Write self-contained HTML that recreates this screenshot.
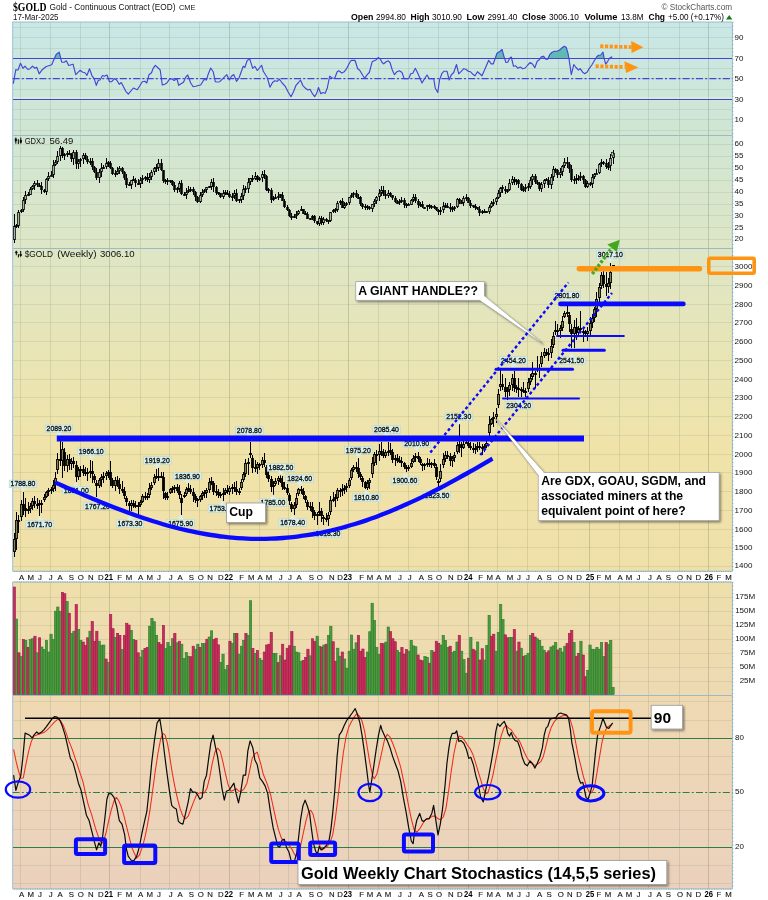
<!DOCTYPE html>
<html><head><meta charset="utf-8"><title>$GOLD</title>
<style>html,body{margin:0;padding:0;background:#fff}body{width:768px;height:900px;position:relative;overflow:hidden;font-family:"Liberation Sans",sans-serif}</style></head>
<body>
<svg width="768" height="900" viewBox="0 0 768 900" style="position:absolute;left:0;top:0;will-change:transform;font-family:'Liberation Sans',sans-serif">
<defs>
<linearGradient id="bg" x1="0" y1="0" x2="0" y2="1" gradientUnits="objectBoundingBox">
<stop offset="0.0000" stop-color="#c8e7e6"/>
<stop offset="0.1303" stop-color="#d0e6d3"/>
<stop offset="0.2607" stop-color="#dee6c6"/>
<stop offset="0.3783" stop-color="#e8e5b6"/>
<stop offset="0.4937" stop-color="#f0e3a9"/>
<stop offset="0.6321" stop-color="#efe0a9"/>
<stop offset="0.6863" stop-color="#eeddae"/>
<stop offset="0.7912" stop-color="#eed9b3"/>
<stop offset="0.9135" stop-color="#ecd4ba"/>
<stop offset="1.0000" stop-color="#ebd1bc"/>
</linearGradient>
<filter id="sh" x="-5%" y="-10%" width="115%" height="130%"><feDropShadow dx="1.5" dy="1.5" stdDeviation="0.8" flood-color="#000" flood-opacity="0.45"/></filter>
<clipPath id="rsiTop"><rect x="0" y="0" width="768" height="58.5"/></clipPath>
</defs>
<rect width="768" height="900" fill="#fff"/>
<rect x="12.6" y="22" width="719.8" height="867" fill="url(#bg)"/>
<g shape-rendering="crispEdges"><line x1="20.5" x2="20.5" y1="22" y2="889" stroke="#5a7050" stroke-width="1" opacity="0.15"/><line x1="50.5" x2="50.5" y1="22" y2="889" stroke="#5a7050" stroke-width="1" opacity="0.15"/><line x1="80.5" x2="80.5" y1="22" y2="889" stroke="#5a7050" stroke-width="1" opacity="0.15"/><line x1="109.5" x2="109.5" y1="22" y2="889" stroke="#5a7050" stroke-width="1" opacity="0.26"/><line x1="140.5" x2="140.5" y1="22" y2="889" stroke="#5a7050" stroke-width="1" opacity="0.15"/><line x1="169.5" x2="169.5" y1="22" y2="889" stroke="#5a7050" stroke-width="1" opacity="0.15"/><line x1="199.5" x2="199.5" y1="22" y2="889" stroke="#5a7050" stroke-width="1" opacity="0.15"/><line x1="229.5" x2="229.5" y1="22" y2="889" stroke="#5a7050" stroke-width="1" opacity="0.26"/><line x1="259.5" x2="259.5" y1="22" y2="889" stroke="#5a7050" stroke-width="1" opacity="0.15"/><line x1="288.5" x2="288.5" y1="22" y2="889" stroke="#5a7050" stroke-width="1" opacity="0.15"/><line x1="318.5" x2="318.5" y1="22" y2="889" stroke="#5a7050" stroke-width="1" opacity="0.15"/><line x1="348.5" x2="348.5" y1="22" y2="889" stroke="#5a7050" stroke-width="1" opacity="0.26"/><line x1="378.5" x2="378.5" y1="22" y2="889" stroke="#5a7050" stroke-width="1" opacity="0.15"/><line x1="408.5" x2="408.5" y1="22" y2="889" stroke="#5a7050" stroke-width="1" opacity="0.15"/><line x1="438.5" x2="438.5" y1="22" y2="889" stroke="#5a7050" stroke-width="1" opacity="0.15"/><line x1="468.5" x2="468.5" y1="22" y2="889" stroke="#5a7050" stroke-width="1" opacity="0.26"/><line x1="497.5" x2="497.5" y1="22" y2="889" stroke="#5a7050" stroke-width="1" opacity="0.15"/><line x1="527.5" x2="527.5" y1="22" y2="889" stroke="#5a7050" stroke-width="1" opacity="0.15"/><line x1="558.5" x2="558.5" y1="22" y2="889" stroke="#5a7050" stroke-width="1" opacity="0.15"/><line x1="589.5" x2="589.5" y1="22" y2="889" stroke="#5a7050" stroke-width="1" opacity="0.26"/><line x1="619.5" x2="619.5" y1="22" y2="889" stroke="#5a7050" stroke-width="1" opacity="0.15"/><line x1="648.5" x2="648.5" y1="22" y2="889" stroke="#5a7050" stroke-width="1" opacity="0.15"/><line x1="679.5" x2="679.5" y1="22" y2="889" stroke="#5a7050" stroke-width="1" opacity="0.15"/><line x1="708.5" x2="708.5" y1="22" y2="889" stroke="#5a7050" stroke-width="1" opacity="0.26"/><line x1="12.6" x2="732.4" y1="130.5" y2="130.5" stroke="#5a7050" stroke-width="1" opacity="0.12" /><line x1="12.6" x2="732.4" y1="119.5" y2="119.5" stroke="#5a7050" stroke-width="1" opacity="0.12" /><line x1="12.6" x2="732.4" y1="109.5" y2="109.5" stroke="#5a7050" stroke-width="1" opacity="0.12" /><line x1="12.6" x2="732.4" y1="99.5" y2="99.5" stroke="#5a7050" stroke-width="1" opacity="0.12" /><line x1="12.6" x2="732.4" y1="89.5" y2="89.5" stroke="#5a7050" stroke-width="1" opacity="0.12" /><line x1="12.6" x2="732.4" y1="78.5" y2="78.5" stroke="#5a7050" stroke-width="1" opacity="0.12" /><line x1="12.6" x2="732.4" y1="68.5" y2="68.5" stroke="#5a7050" stroke-width="1" opacity="0.12" /><line x1="12.6" x2="732.4" y1="58.5" y2="58.5" stroke="#5a7050" stroke-width="1" opacity="0.12" /><line x1="12.6" x2="732.4" y1="48.5" y2="48.5" stroke="#5a7050" stroke-width="1" opacity="0.12" /><line x1="12.6" x2="732.4" y1="37.5" y2="37.5" stroke="#5a7050" stroke-width="1" opacity="0.12" /><line x1="12.6" x2="732.4" y1="27.5" y2="27.5" stroke="#5a7050" stroke-width="1" opacity="0.12" /><line x1="12.6" x2="732.4" y1="239.5" y2="239.5" stroke="#5a7050" stroke-width="1" opacity="0.12" /><line x1="12.6" x2="732.4" y1="227.5" y2="227.5" stroke="#5a7050" stroke-width="1" opacity="0.12" /><line x1="12.6" x2="732.4" y1="215.5" y2="215.5" stroke="#5a7050" stroke-width="1" opacity="0.12" /><line x1="12.6" x2="732.4" y1="204.5" y2="204.5" stroke="#5a7050" stroke-width="1" opacity="0.12" /><line x1="12.6" x2="732.4" y1="192.5" y2="192.5" stroke="#5a7050" stroke-width="1" opacity="0.12" /><line x1="12.6" x2="732.4" y1="180.5" y2="180.5" stroke="#5a7050" stroke-width="1" opacity="0.12" /><line x1="12.6" x2="732.4" y1="168.5" y2="168.5" stroke="#5a7050" stroke-width="1" opacity="0.12" /><line x1="12.6" x2="732.4" y1="156.5" y2="156.5" stroke="#5a7050" stroke-width="1" opacity="0.12" /><line x1="12.6" x2="732.4" y1="144.5" y2="144.5" stroke="#5a7050" stroke-width="1" opacity="0.12" /><line x1="12.6" x2="732.4" y1="566.5" y2="566.5" stroke="#5a7050" stroke-width="1" opacity="0.12" /><line x1="12.6" x2="732.4" y1="547.5" y2="547.5" stroke="#5a7050" stroke-width="1" opacity="0.12" /><line x1="12.6" x2="732.4" y1="529.5" y2="529.5" stroke="#5a7050" stroke-width="1" opacity="0.12" /><line x1="12.6" x2="732.4" y1="510.5" y2="510.5" stroke="#5a7050" stroke-width="1" opacity="0.12" /><line x1="12.6" x2="732.4" y1="491.5" y2="491.5" stroke="#5a7050" stroke-width="1" opacity="0.12" /><line x1="12.6" x2="732.4" y1="472.5" y2="472.5" stroke="#5a7050" stroke-width="1" opacity="0.12" /><line x1="12.6" x2="732.4" y1="454.5" y2="454.5" stroke="#5a7050" stroke-width="1" opacity="0.12" /><line x1="12.6" x2="732.4" y1="435.5" y2="435.5" stroke="#5a7050" stroke-width="1" opacity="0.12" /><line x1="12.6" x2="732.4" y1="416.5" y2="416.5" stroke="#5a7050" stroke-width="1" opacity="0.12" /><line x1="12.6" x2="732.4" y1="397.5" y2="397.5" stroke="#5a7050" stroke-width="1" opacity="0.12" /><line x1="12.6" x2="732.4" y1="379.5" y2="379.5" stroke="#5a7050" stroke-width="1" opacity="0.12" /><line x1="12.6" x2="732.4" y1="360.5" y2="360.5" stroke="#5a7050" stroke-width="1" opacity="0.12" /><line x1="12.6" x2="732.4" y1="341.5" y2="341.5" stroke="#5a7050" stroke-width="1" opacity="0.12" /><line x1="12.6" x2="732.4" y1="322.5" y2="322.5" stroke="#5a7050" stroke-width="1" opacity="0.12" /><line x1="12.6" x2="732.4" y1="304.5" y2="304.5" stroke="#5a7050" stroke-width="1" opacity="0.12" /><line x1="12.6" x2="732.4" y1="285.5" y2="285.5" stroke="#5a7050" stroke-width="1" opacity="0.12" /><line x1="12.6" x2="732.4" y1="266.5" y2="266.5" stroke="#5a7050" stroke-width="1" opacity="0.12" /><line x1="12.6" x2="732.4" y1="681.5" y2="681.5" stroke="#5a7050" stroke-width="1" opacity="0.12" /><line x1="12.6" x2="732.4" y1="667.5" y2="667.5" stroke="#5a7050" stroke-width="1" opacity="0.12" /><line x1="12.6" x2="732.4" y1="653.5" y2="653.5" stroke="#5a7050" stroke-width="1" opacity="0.12" /><line x1="12.6" x2="732.4" y1="639.5" y2="639.5" stroke="#5a7050" stroke-width="1" opacity="0.12" /><line x1="12.6" x2="732.4" y1="625.5" y2="625.5" stroke="#5a7050" stroke-width="1" opacity="0.12" /><line x1="12.6" x2="732.4" y1="611.5" y2="611.5" stroke="#5a7050" stroke-width="1" opacity="0.12" /><line x1="12.6" x2="732.4" y1="597.5" y2="597.5" stroke="#5a7050" stroke-width="1" opacity="0.12" /><line x1="12.6" x2="732.4" y1="883.5" y2="883.5" stroke="#5a7050" stroke-width="1" opacity="0.12" /><line x1="12.6" x2="732.4" y1="865.5" y2="865.5" stroke="#5a7050" stroke-width="1" opacity="0.12" /><line x1="12.6" x2="732.4" y1="829.5" y2="829.5" stroke="#5a7050" stroke-width="1" opacity="0.12" /><line x1="12.6" x2="732.4" y1="810.5" y2="810.5" stroke="#5a7050" stroke-width="1" opacity="0.12" /><line x1="12.6" x2="732.4" y1="774.5" y2="774.5" stroke="#5a7050" stroke-width="1" opacity="0.12" /><line x1="12.6" x2="732.4" y1="756.5" y2="756.5" stroke="#5a7050" stroke-width="1" opacity="0.12" /><line x1="12.6" x2="732.4" y1="720.5" y2="720.5" stroke="#5a7050" stroke-width="1" opacity="0.12" /><line x1="12.6" x2="732.4" y1="701.5" y2="701.5" stroke="#5a7050" stroke-width="1" opacity="0.12" /></g>
<rect x="0" y="571.3" width="768" height="10.7" fill="#fff"/>
<rect x="0" y="889" width="768" height="11" fill="#fff"/>
<line x1="12.6" x2="732.4" y1="135.5" y2="135.5" stroke="#9db9c4" stroke-width="1" shape-rendering="crispEdges"/>
<line x1="12.6" x2="732.4" y1="248.5" y2="248.5" stroke="#9db9c4" stroke-width="1" shape-rendering="crispEdges"/>
<line x1="12.6" x2="732.4" y1="695.5" y2="695.5" stroke="#9db9c4" stroke-width="1" shape-rendering="crispEdges"/>
<line x1="12.6" x2="732.4" y1="22" y2="22" stroke="#9bbcc8" stroke-width="1"/>
<line x1="12.6" x2="732.4" y1="571.3" y2="571.3" stroke="#9bbcc8" stroke-width="1"/>
<line x1="12.6" x2="732.4" y1="582" y2="582" stroke="#9bbcc8" stroke-width="1"/>
<line x1="12.6" x2="732.4" y1="889" y2="889" stroke="#9bbcc8" stroke-width="1"/>
<line x1="14.3" x2="732.4" y1="571.3" y2="571.3" stroke="#7aa0b0" stroke-width="1" stroke-dasharray="0.8 1.494"/>
<line x1="14.3" x2="732.4" y1="582" y2="582" stroke="#7aa0b0" stroke-width="1" stroke-dasharray="0.8 1.494"/>
<line x1="14.3" x2="732.4" y1="889" y2="889" stroke="#7aa0b0" stroke-width="1" stroke-dasharray="0.8 1.494"/>
<line x1="12.6" x2="12.6" y1="22" y2="571.3" stroke="#a8c8e0" stroke-width="1.2"/>
<line x1="732.4" x2="732.4" y1="22" y2="571.3" stroke="#9bbcc8" stroke-width="1"/>
<line x1="732.9" x2="732.9" y1="22" y2="571.3" stroke="#7aa0b0" stroke-width="1" stroke-dasharray="0.8 2.9"/>
<line x1="12.6" x2="12.6" y1="582" y2="889" stroke="#a8c8e0" stroke-width="1.2"/>
<line x1="732.4" x2="732.4" y1="582" y2="889" stroke="#9bbcc8" stroke-width="1"/>
<line x1="732.9" x2="732.9" y1="582" y2="889" stroke="#7aa0b0" stroke-width="1" stroke-dasharray="0.8 2.9"/>
<text x="13" y="10.6" font-family='"Liberation Serif", serif' font-weight="bold" font-size="12.5" textLength="33.5" lengthAdjust="spacingAndGlyphs" fill="#000">$GOLD</text>
<text x="49.5" y="10.3" font-size="9.6" textLength="126" lengthAdjust="spacingAndGlyphs" fill="#111">Gold - Continuous Contract (EOD)</text>
<text x="179" y="10.3" font-size="7.8" textLength="16.5" lengthAdjust="spacingAndGlyphs" fill="#111">CME</text>
<text x="13" y="20" font-size="8.6" textLength="45.5" lengthAdjust="spacingAndGlyphs" fill="#111">17-Mar-2025</text>
<text x="661.5" y="9.8" font-size="9" textLength="70.5" lengthAdjust="spacingAndGlyphs" fill="#555">© StockCharts.com</text>
<text x="351" y="20.2" font-size="9.2" font-weight="bold" textLength="22.5" lengthAdjust="spacingAndGlyphs" fill="#000">Open</text>
<text x="376" y="20.2" font-size="8.6"  textLength="30" lengthAdjust="spacingAndGlyphs" fill="#000">2994.80</text>
<text x="410.5" y="20.2" font-size="9.2" font-weight="bold" textLength="19" lengthAdjust="spacingAndGlyphs" fill="#000">High</text>
<text x="432" y="20.2" font-size="8.6"  textLength="30" lengthAdjust="spacingAndGlyphs" fill="#000">3010.90</text>
<text x="466.5" y="20.2" font-size="9.2" font-weight="bold" textLength="18" lengthAdjust="spacingAndGlyphs" fill="#000">Low</text>
<text x="487.5" y="20.2" font-size="8.6"  textLength="30" lengthAdjust="spacingAndGlyphs" fill="#000">2991.40</text>
<text x="522" y="20.2" font-size="9.2" font-weight="bold" textLength="24" lengthAdjust="spacingAndGlyphs" fill="#000">Close</text>
<text x="549" y="20.2" font-size="8.6"  textLength="30" lengthAdjust="spacingAndGlyphs" fill="#000">3006.10</text>
<text x="584.5" y="20.2" font-size="9.2" font-weight="bold" textLength="33" lengthAdjust="spacingAndGlyphs" fill="#000">Volume</text>
<text x="621" y="20.2" font-size="8.6"  textLength="22.5" lengthAdjust="spacingAndGlyphs" fill="#000">13.8M</text>
<text x="648.5" y="20.2" font-size="9.2" font-weight="bold" textLength="16.5" lengthAdjust="spacingAndGlyphs" fill="#000">Chg</text>
<text x="668" y="20.2" font-size="8.6"  textLength="56" lengthAdjust="spacingAndGlyphs" fill="#000">+5.00 (+0.17%)</text>
<path d="M726 19.6 L729.2 15 L732.4 19.6Z" fill="#1a7a1a"/>
<text x="734.6" y="40.2" font-size="8" text-anchor="start" fill="#111">90</text>
<text x="734.6" y="60.7" font-size="8" text-anchor="start" fill="#111">70</text>
<text x="734.6" y="81.2" font-size="8" text-anchor="start" fill="#111">50</text>
<text x="734.6" y="101.7" font-size="8" text-anchor="start" fill="#111">30</text>
<text x="734.6" y="122.2" font-size="8" text-anchor="start" fill="#111">10</text>
<text x="734.6" y="241.4" font-size="8" text-anchor="start" fill="#111">20</text>
<text x="734.6" y="229.5" font-size="8" text-anchor="start" fill="#111">25</text>
<text x="734.6" y="217.6" font-size="8" text-anchor="start" fill="#111">30</text>
<text x="734.6" y="205.7" font-size="8" text-anchor="start" fill="#111">35</text>
<text x="734.6" y="193.8" font-size="8" text-anchor="start" fill="#111">40</text>
<text x="734.6" y="181.9" font-size="8" text-anchor="start" fill="#111">45</text>
<text x="734.6" y="170" font-size="8" text-anchor="start" fill="#111">50</text>
<text x="734.6" y="158.1" font-size="8" text-anchor="start" fill="#111">55</text>
<text x="734.6" y="146.2" font-size="8" text-anchor="start" fill="#111">60</text>
<text x="734.6" y="568" font-size="8" text-anchor="start" fill="#111">1400</text>
<text x="734.6" y="550.2" font-size="8" text-anchor="start" fill="#111">1500</text>
<text x="734.6" y="531.5" font-size="8" text-anchor="start" fill="#111">1600</text>
<text x="734.6" y="512.8" font-size="8" text-anchor="start" fill="#111">1700</text>
<text x="734.6" y="494" font-size="8" text-anchor="start" fill="#111">1800</text>
<text x="734.6" y="475.2" font-size="8" text-anchor="start" fill="#111">1900</text>
<text x="734.6" y="456.5" font-size="8" text-anchor="start" fill="#111">2000</text>
<text x="734.6" y="437.8" font-size="8" text-anchor="start" fill="#111">2100</text>
<text x="734.6" y="419" font-size="8" text-anchor="start" fill="#111">2200</text>
<text x="734.6" y="400.2" font-size="8" text-anchor="start" fill="#111">2300</text>
<text x="734.6" y="381.5" font-size="8" text-anchor="start" fill="#111">2400</text>
<text x="734.6" y="362.8" font-size="8" text-anchor="start" fill="#111">2500</text>
<text x="734.6" y="344" font-size="8" text-anchor="start" fill="#111">2600</text>
<text x="734.6" y="325.2" font-size="8" text-anchor="start" fill="#111">2700</text>
<text x="734.6" y="306.5" font-size="8" text-anchor="start" fill="#111">2800</text>
<text x="734.6" y="287.8" font-size="8" text-anchor="start" fill="#111">2900</text>
<text x="734.6" y="269" font-size="8" text-anchor="start" fill="#111">3000</text>
<text x="755.2" y="683.4" font-size="8" text-anchor="end" fill="#111">25M</text>
<text x="755.2" y="669.4" font-size="8" text-anchor="end" fill="#111">50M</text>
<text x="755.2" y="655.4" font-size="8" text-anchor="end" fill="#111">75M</text>
<text x="755.2" y="641.4" font-size="8" text-anchor="end" fill="#111">100M</text>
<text x="755.2" y="627.4" font-size="8" text-anchor="end" fill="#111">125M</text>
<text x="755.2" y="613.4" font-size="8" text-anchor="end" fill="#111">150M</text>
<text x="755.2" y="599.4" font-size="8" text-anchor="end" fill="#111">175M</text>
<text x="735" y="739.8" font-size="8" text-anchor="start" fill="#111">80</text>
<text x="735" y="794.3" font-size="8" text-anchor="start" fill="#111">50</text>
<text x="735" y="848.8" font-size="8" text-anchor="start" fill="#111">20</text>
<text x="21.7" y="579.5" font-size="7.8" text-anchor="middle" fill="#111" stroke="#111" stroke-width="0.12">A</text>
<text x="30.7" y="579.5" font-size="7.8" text-anchor="middle" fill="#111" stroke="#111" stroke-width="0.12">M</text>
<text x="40" y="579.5" font-size="7.8" text-anchor="middle" fill="#111" stroke="#111" stroke-width="0.12">J</text>
<text x="50.7" y="579.5" font-size="7.8" text-anchor="middle" fill="#111" stroke="#111" stroke-width="0.12">J</text>
<text x="60" y="579.5" font-size="7.8" text-anchor="middle" fill="#111" stroke="#111" stroke-width="0.12">A</text>
<text x="71.4" y="579.5" font-size="7.8" text-anchor="middle" fill="#111" stroke="#111" stroke-width="0.12">S</text>
<text x="80.7" y="579.5" font-size="7.8" text-anchor="middle" fill="#111" stroke="#111" stroke-width="0.12">O</text>
<text x="90.7" y="579.5" font-size="7.8" text-anchor="middle" fill="#111" stroke="#111" stroke-width="0.12">N</text>
<text x="100.7" y="579.5" font-size="7.8" text-anchor="middle" fill="#111" stroke="#111" stroke-width="0.12">D</text>
<text x="108.7" y="579.5" font-size="8.3" font-weight="bold" text-anchor="middle" textLength="8.5" lengthAdjust="spacingAndGlyphs" fill="#000">21</text>
<text x="119.7" y="579.5" font-size="7.8" text-anchor="middle" fill="#111" stroke="#111" stroke-width="0.12">F</text>
<text x="129" y="579.5" font-size="7.8" text-anchor="middle" fill="#111" stroke="#111" stroke-width="0.12">M</text>
<text x="140.7" y="579.5" font-size="7.8" text-anchor="middle" fill="#111" stroke="#111" stroke-width="0.12">A</text>
<text x="149.7" y="579.5" font-size="7.8" text-anchor="middle" fill="#111" stroke="#111" stroke-width="0.12">M</text>
<text x="159" y="579.5" font-size="7.8" text-anchor="middle" fill="#111" stroke="#111" stroke-width="0.12">J</text>
<text x="170.7" y="579.5" font-size="7.8" text-anchor="middle" fill="#111" stroke="#111" stroke-width="0.12">J</text>
<text x="180" y="579.5" font-size="7.8" text-anchor="middle" fill="#111" stroke="#111" stroke-width="0.12">A</text>
<text x="191.4" y="579.5" font-size="7.8" text-anchor="middle" fill="#111" stroke="#111" stroke-width="0.12">S</text>
<text x="200.7" y="579.5" font-size="7.8" text-anchor="middle" fill="#111" stroke="#111" stroke-width="0.12">O</text>
<text x="210" y="579.5" font-size="7.8" text-anchor="middle" fill="#111" stroke="#111" stroke-width="0.12">N</text>
<text x="220.7" y="579.5" font-size="7.8" text-anchor="middle" fill="#111" stroke="#111" stroke-width="0.12">D</text>
<text x="228.7" y="579.5" font-size="8.3" font-weight="bold" text-anchor="middle" textLength="8.5" lengthAdjust="spacingAndGlyphs" fill="#000">22</text>
<text x="241.7" y="579.5" font-size="7.8" text-anchor="middle" fill="#111" stroke="#111" stroke-width="0.12">F</text>
<text x="251.2" y="579.5" font-size="7.8" text-anchor="middle" fill="#111" stroke="#111" stroke-width="0.12">M</text>
<text x="260" y="579.5" font-size="7.8" text-anchor="middle" fill="#111" stroke="#111" stroke-width="0.12">A</text>
<text x="269" y="579.5" font-size="7.8" text-anchor="middle" fill="#111" stroke="#111" stroke-width="0.12">M</text>
<text x="280.7" y="579.5" font-size="7.8" text-anchor="middle" fill="#111" stroke="#111" stroke-width="0.12">J</text>
<text x="290" y="579.5" font-size="7.8" text-anchor="middle" fill="#111" stroke="#111" stroke-width="0.12">J</text>
<text x="299" y="579.5" font-size="7.8" text-anchor="middle" fill="#111" stroke="#111" stroke-width="0.12">A</text>
<text x="311.4" y="579.5" font-size="7.8" text-anchor="middle" fill="#111" stroke="#111" stroke-width="0.12">S</text>
<text x="319.7" y="579.5" font-size="7.8" text-anchor="middle" fill="#111" stroke="#111" stroke-width="0.12">O</text>
<text x="331.7" y="579.5" font-size="7.8" text-anchor="middle" fill="#111" stroke="#111" stroke-width="0.12">N</text>
<text x="340" y="579.5" font-size="7.8" text-anchor="middle" fill="#111" stroke="#111" stroke-width="0.12">D</text>
<text x="347.7" y="579.5" font-size="8.3" font-weight="bold" text-anchor="middle" textLength="8.5" lengthAdjust="spacingAndGlyphs" fill="#000">23</text>
<text x="361.7" y="579.5" font-size="7.8" text-anchor="middle" fill="#111" stroke="#111" stroke-width="0.12">F</text>
<text x="370" y="579.5" font-size="7.8" text-anchor="middle" fill="#111" stroke="#111" stroke-width="0.12">M</text>
<text x="379" y="579.5" font-size="7.8" text-anchor="middle" fill="#111" stroke="#111" stroke-width="0.12">A</text>
<text x="388" y="579.5" font-size="7.8" text-anchor="middle" fill="#111" stroke="#111" stroke-width="0.12">M</text>
<text x="400" y="579.5" font-size="7.8" text-anchor="middle" fill="#111" stroke="#111" stroke-width="0.12">J</text>
<text x="409.7" y="579.5" font-size="7.8" text-anchor="middle" fill="#111" stroke="#111" stroke-width="0.12">J</text>
<text x="421.4" y="579.5" font-size="7.8" text-anchor="middle" fill="#111" stroke="#111" stroke-width="0.12">A</text>
<text x="430" y="579.5" font-size="7.8" text-anchor="middle" fill="#111" stroke="#111" stroke-width="0.12">S</text>
<text x="439" y="579.5" font-size="7.8" text-anchor="middle" fill="#111" stroke="#111" stroke-width="0.12">O</text>
<text x="450.7" y="579.5" font-size="7.8" text-anchor="middle" fill="#111" stroke="#111" stroke-width="0.12">N</text>
<text x="459.7" y="579.5" font-size="7.8" text-anchor="middle" fill="#111" stroke="#111" stroke-width="0.12">D</text>
<text x="468.3" y="579.5" font-size="8.3" font-weight="bold" text-anchor="middle" textLength="8.5" lengthAdjust="spacingAndGlyphs" fill="#000">24</text>
<text x="480.7" y="579.5" font-size="7.8" text-anchor="middle" fill="#111" stroke="#111" stroke-width="0.12">F</text>
<text x="489.7" y="579.5" font-size="7.8" text-anchor="middle" fill="#111" stroke="#111" stroke-width="0.12">M</text>
<text x="498.2" y="579.5" font-size="7.8" text-anchor="middle" fill="#111" stroke="#111" stroke-width="0.12">A</text>
<text x="510" y="579.5" font-size="7.8" text-anchor="middle" fill="#111" stroke="#111" stroke-width="0.12">M</text>
<text x="519" y="579.5" font-size="7.8" text-anchor="middle" fill="#111" stroke="#111" stroke-width="0.12">J</text>
<text x="528" y="579.5" font-size="7.8" text-anchor="middle" fill="#111" stroke="#111" stroke-width="0.12">J</text>
<text x="539.7" y="579.5" font-size="7.8" text-anchor="middle" fill="#111" stroke="#111" stroke-width="0.12">A</text>
<text x="549" y="579.5" font-size="7.8" text-anchor="middle" fill="#111" stroke="#111" stroke-width="0.12">S</text>
<text x="560.7" y="579.5" font-size="7.8" text-anchor="middle" fill="#111" stroke="#111" stroke-width="0.12">O</text>
<text x="569.7" y="579.5" font-size="7.8" text-anchor="middle" fill="#111" stroke="#111" stroke-width="0.12">N</text>
<text x="579" y="579.5" font-size="7.8" text-anchor="middle" fill="#111" stroke="#111" stroke-width="0.12">D</text>
<text x="590" y="579.5" font-size="8.3" font-weight="bold" text-anchor="middle" textLength="8.5" lengthAdjust="spacingAndGlyphs" fill="#000">25</text>
<text x="599" y="579.5" font-size="7.8" text-anchor="middle" fill="#111" stroke="#111" stroke-width="0.12">F</text>
<text x="608" y="579.5" font-size="7.8" text-anchor="middle" fill="#111" stroke="#111" stroke-width="0.12">M</text>
<text x="620" y="579.5" font-size="7.8" text-anchor="middle" fill="#111" stroke="#111" stroke-width="0.12">A</text>
<text x="629" y="579.5" font-size="7.8" text-anchor="middle" fill="#111" stroke="#111" stroke-width="0.12">M</text>
<text x="638.4" y="579.5" font-size="7.8" text-anchor="middle" fill="#111" stroke="#111" stroke-width="0.12">J</text>
<text x="650" y="579.5" font-size="7.8" text-anchor="middle" fill="#111" stroke="#111" stroke-width="0.12">J</text>
<text x="659" y="579.5" font-size="7.8" text-anchor="middle" fill="#111" stroke="#111" stroke-width="0.12">A</text>
<text x="668.4" y="579.5" font-size="7.8" text-anchor="middle" fill="#111" stroke="#111" stroke-width="0.12">S</text>
<text x="680" y="579.5" font-size="7.8" text-anchor="middle" fill="#111" stroke="#111" stroke-width="0.12">O</text>
<text x="689" y="579.5" font-size="7.8" text-anchor="middle" fill="#111" stroke="#111" stroke-width="0.12">N</text>
<text x="698.4" y="579.5" font-size="7.8" text-anchor="middle" fill="#111" stroke="#111" stroke-width="0.12">D</text>
<text x="708.7" y="579.5" font-size="8.3" font-weight="bold" text-anchor="middle" textLength="8.5" lengthAdjust="spacingAndGlyphs" fill="#000">26</text>
<text x="719" y="579.5" font-size="7.8" text-anchor="middle" fill="#111" stroke="#111" stroke-width="0.12">F</text>
<text x="728.4" y="579.5" font-size="7.8" text-anchor="middle" fill="#111" stroke="#111" stroke-width="0.12">M</text>
<text x="21.7" y="897.2" font-size="7.8" text-anchor="middle" fill="#111" stroke="#111" stroke-width="0.12">A</text>
<text x="30.7" y="897.2" font-size="7.8" text-anchor="middle" fill="#111" stroke="#111" stroke-width="0.12">M</text>
<text x="40" y="897.2" font-size="7.8" text-anchor="middle" fill="#111" stroke="#111" stroke-width="0.12">J</text>
<text x="50.7" y="897.2" font-size="7.8" text-anchor="middle" fill="#111" stroke="#111" stroke-width="0.12">J</text>
<text x="60" y="897.2" font-size="7.8" text-anchor="middle" fill="#111" stroke="#111" stroke-width="0.12">A</text>
<text x="71.4" y="897.2" font-size="7.8" text-anchor="middle" fill="#111" stroke="#111" stroke-width="0.12">S</text>
<text x="80.7" y="897.2" font-size="7.8" text-anchor="middle" fill="#111" stroke="#111" stroke-width="0.12">O</text>
<text x="90.7" y="897.2" font-size="7.8" text-anchor="middle" fill="#111" stroke="#111" stroke-width="0.12">N</text>
<text x="100.7" y="897.2" font-size="7.8" text-anchor="middle" fill="#111" stroke="#111" stroke-width="0.12">D</text>
<text x="108.7" y="897.2" font-size="8.3" font-weight="bold" text-anchor="middle" textLength="8.5" lengthAdjust="spacingAndGlyphs" fill="#000">21</text>
<text x="119.7" y="897.2" font-size="7.8" text-anchor="middle" fill="#111" stroke="#111" stroke-width="0.12">F</text>
<text x="129" y="897.2" font-size="7.8" text-anchor="middle" fill="#111" stroke="#111" stroke-width="0.12">M</text>
<text x="140.7" y="897.2" font-size="7.8" text-anchor="middle" fill="#111" stroke="#111" stroke-width="0.12">A</text>
<text x="149.7" y="897.2" font-size="7.8" text-anchor="middle" fill="#111" stroke="#111" stroke-width="0.12">M</text>
<text x="159" y="897.2" font-size="7.8" text-anchor="middle" fill="#111" stroke="#111" stroke-width="0.12">J</text>
<text x="170.7" y="897.2" font-size="7.8" text-anchor="middle" fill="#111" stroke="#111" stroke-width="0.12">J</text>
<text x="180" y="897.2" font-size="7.8" text-anchor="middle" fill="#111" stroke="#111" stroke-width="0.12">A</text>
<text x="191.4" y="897.2" font-size="7.8" text-anchor="middle" fill="#111" stroke="#111" stroke-width="0.12">S</text>
<text x="200.7" y="897.2" font-size="7.8" text-anchor="middle" fill="#111" stroke="#111" stroke-width="0.12">O</text>
<text x="210" y="897.2" font-size="7.8" text-anchor="middle" fill="#111" stroke="#111" stroke-width="0.12">N</text>
<text x="220.7" y="897.2" font-size="7.8" text-anchor="middle" fill="#111" stroke="#111" stroke-width="0.12">D</text>
<text x="228.7" y="897.2" font-size="8.3" font-weight="bold" text-anchor="middle" textLength="8.5" lengthAdjust="spacingAndGlyphs" fill="#000">22</text>
<text x="241.7" y="897.2" font-size="7.8" text-anchor="middle" fill="#111" stroke="#111" stroke-width="0.12">F</text>
<text x="251.2" y="897.2" font-size="7.8" text-anchor="middle" fill="#111" stroke="#111" stroke-width="0.12">M</text>
<text x="260" y="897.2" font-size="7.8" text-anchor="middle" fill="#111" stroke="#111" stroke-width="0.12">A</text>
<text x="269" y="897.2" font-size="7.8" text-anchor="middle" fill="#111" stroke="#111" stroke-width="0.12">M</text>
<text x="280.7" y="897.2" font-size="7.8" text-anchor="middle" fill="#111" stroke="#111" stroke-width="0.12">J</text>
<text x="290" y="897.2" font-size="7.8" text-anchor="middle" fill="#111" stroke="#111" stroke-width="0.12">J</text>
<text x="299" y="897.2" font-size="7.8" text-anchor="middle" fill="#111" stroke="#111" stroke-width="0.12">A</text>
<text x="311.4" y="897.2" font-size="7.8" text-anchor="middle" fill="#111" stroke="#111" stroke-width="0.12">S</text>
<text x="319.7" y="897.2" font-size="7.8" text-anchor="middle" fill="#111" stroke="#111" stroke-width="0.12">O</text>
<text x="331.7" y="897.2" font-size="7.8" text-anchor="middle" fill="#111" stroke="#111" stroke-width="0.12">N</text>
<text x="340" y="897.2" font-size="7.8" text-anchor="middle" fill="#111" stroke="#111" stroke-width="0.12">D</text>
<text x="347.7" y="897.2" font-size="8.3" font-weight="bold" text-anchor="middle" textLength="8.5" lengthAdjust="spacingAndGlyphs" fill="#000">23</text>
<text x="361.7" y="897.2" font-size="7.8" text-anchor="middle" fill="#111" stroke="#111" stroke-width="0.12">F</text>
<text x="370" y="897.2" font-size="7.8" text-anchor="middle" fill="#111" stroke="#111" stroke-width="0.12">M</text>
<text x="379" y="897.2" font-size="7.8" text-anchor="middle" fill="#111" stroke="#111" stroke-width="0.12">A</text>
<text x="388" y="897.2" font-size="7.8" text-anchor="middle" fill="#111" stroke="#111" stroke-width="0.12">M</text>
<text x="400" y="897.2" font-size="7.8" text-anchor="middle" fill="#111" stroke="#111" stroke-width="0.12">J</text>
<text x="409.7" y="897.2" font-size="7.8" text-anchor="middle" fill="#111" stroke="#111" stroke-width="0.12">J</text>
<text x="421.4" y="897.2" font-size="7.8" text-anchor="middle" fill="#111" stroke="#111" stroke-width="0.12">A</text>
<text x="430" y="897.2" font-size="7.8" text-anchor="middle" fill="#111" stroke="#111" stroke-width="0.12">S</text>
<text x="439" y="897.2" font-size="7.8" text-anchor="middle" fill="#111" stroke="#111" stroke-width="0.12">O</text>
<text x="450.7" y="897.2" font-size="7.8" text-anchor="middle" fill="#111" stroke="#111" stroke-width="0.12">N</text>
<text x="459.7" y="897.2" font-size="7.8" text-anchor="middle" fill="#111" stroke="#111" stroke-width="0.12">D</text>
<text x="468.3" y="897.2" font-size="8.3" font-weight="bold" text-anchor="middle" textLength="8.5" lengthAdjust="spacingAndGlyphs" fill="#000">24</text>
<text x="480.7" y="897.2" font-size="7.8" text-anchor="middle" fill="#111" stroke="#111" stroke-width="0.12">F</text>
<text x="489.7" y="897.2" font-size="7.8" text-anchor="middle" fill="#111" stroke="#111" stroke-width="0.12">M</text>
<text x="498.2" y="897.2" font-size="7.8" text-anchor="middle" fill="#111" stroke="#111" stroke-width="0.12">A</text>
<text x="510" y="897.2" font-size="7.8" text-anchor="middle" fill="#111" stroke="#111" stroke-width="0.12">M</text>
<text x="519" y="897.2" font-size="7.8" text-anchor="middle" fill="#111" stroke="#111" stroke-width="0.12">J</text>
<text x="528" y="897.2" font-size="7.8" text-anchor="middle" fill="#111" stroke="#111" stroke-width="0.12">J</text>
<text x="539.7" y="897.2" font-size="7.8" text-anchor="middle" fill="#111" stroke="#111" stroke-width="0.12">A</text>
<text x="549" y="897.2" font-size="7.8" text-anchor="middle" fill="#111" stroke="#111" stroke-width="0.12">S</text>
<text x="560.7" y="897.2" font-size="7.8" text-anchor="middle" fill="#111" stroke="#111" stroke-width="0.12">O</text>
<text x="569.7" y="897.2" font-size="7.8" text-anchor="middle" fill="#111" stroke="#111" stroke-width="0.12">N</text>
<text x="579" y="897.2" font-size="7.8" text-anchor="middle" fill="#111" stroke="#111" stroke-width="0.12">D</text>
<text x="590" y="897.2" font-size="8.3" font-weight="bold" text-anchor="middle" textLength="8.5" lengthAdjust="spacingAndGlyphs" fill="#000">25</text>
<text x="599" y="897.2" font-size="7.8" text-anchor="middle" fill="#111" stroke="#111" stroke-width="0.12">F</text>
<text x="608" y="897.2" font-size="7.8" text-anchor="middle" fill="#111" stroke="#111" stroke-width="0.12">M</text>
<text x="620" y="897.2" font-size="7.8" text-anchor="middle" fill="#111" stroke="#111" stroke-width="0.12">A</text>
<text x="629" y="897.2" font-size="7.8" text-anchor="middle" fill="#111" stroke="#111" stroke-width="0.12">M</text>
<text x="638.4" y="897.2" font-size="7.8" text-anchor="middle" fill="#111" stroke="#111" stroke-width="0.12">J</text>
<text x="650" y="897.2" font-size="7.8" text-anchor="middle" fill="#111" stroke="#111" stroke-width="0.12">J</text>
<text x="659" y="897.2" font-size="7.8" text-anchor="middle" fill="#111" stroke="#111" stroke-width="0.12">A</text>
<text x="668.4" y="897.2" font-size="7.8" text-anchor="middle" fill="#111" stroke="#111" stroke-width="0.12">S</text>
<text x="680" y="897.2" font-size="7.8" text-anchor="middle" fill="#111" stroke="#111" stroke-width="0.12">O</text>
<text x="689" y="897.2" font-size="7.8" text-anchor="middle" fill="#111" stroke="#111" stroke-width="0.12">N</text>
<text x="698.4" y="897.2" font-size="7.8" text-anchor="middle" fill="#111" stroke="#111" stroke-width="0.12">D</text>
<text x="708.7" y="897.2" font-size="8.3" font-weight="bold" text-anchor="middle" textLength="8.5" lengthAdjust="spacingAndGlyphs" fill="#000">26</text>
<text x="719" y="897.2" font-size="7.8" text-anchor="middle" fill="#111" stroke="#111" stroke-width="0.12">F</text>
<text x="728.4" y="897.2" font-size="7.8" text-anchor="middle" fill="#111" stroke="#111" stroke-width="0.12">M</text>
<path d="M13.3 58.1 L13.3 83.7 L15.8 69.7 L18 70 L20.5 63.3 L23 68.3 L25 66.2 L27.8 69.5 L30 68.7 L32.5 66.2 L35 68.3 L36.7 67.2 L39.2 73.8 L41.7 70.3 L45.8 66.7 L51.7 64.7 L53.7 60 L56.3 54.2 L59.2 52.2 L61.7 62.2 L64.2 62.2 L66.3 60.8 L68.7 65.5 L73 64.2 L75.8 74.7 L80 70.3 L82.8 72.2 L84.7 72.5 L87 75.3 L89.5 68.8 L92 75.8 L94.2 78.7 L96.3 85.3 L98.3 80.3 L100 80 L102.5 75.5 L104.5 76.2 L107 75 L109.5 81.7 L111.7 81.7 L114.5 78.7 L116.7 80 L119.2 84.2 L121.3 82.5 L125.8 91.3 L128.3 94.2 L133.3 88 L137.3 89.7 L139.8 85.8 L142.3 81.7 L144.8 81.3 L146.8 83 L149 74.7 L151.5 72.8 L153.2 68.3 L155.3 65.3 L157.7 67.5 L160.2 70 L162.3 85 L164.8 84.2 L166.8 83 L169.5 79.2 L172 78.8 L174 80.5 L177 78.8 L178.7 85.3 L181 83.7 L183.5 82.2 L185.7 77.2 L187.7 75 L190.7 83 L193.2 86.7 L195.7 86.3 L198.2 85.5 L200.7 85 L204 79.5 L206.5 80 L208.2 74.2 L210.7 68 L213.2 71.7 L215.3 81.7 L217.3 82 L219.8 81.7 L222.3 79.2 L224.8 76.7 L226.8 74.7 L229.3 80 L231.5 76.2 L233.7 74.5 L236.5 81.3 L239 78 L243.2 66.3 L244.8 67.5 L247.3 60.3 L249.8 59.2 L252.7 68.3 L254.8 66.3 L257.3 70.5 L259.8 67.5 L261.7 65.3 L263.3 71.3 L267.2 77.5 L270 87.2 L272.5 82.5 L274.7 80.8 L277.2 81.3 L279.3 79.2 L282.2 83 L285.5 86.7 L288 91.7 L291 96.7 L293.5 91.7 L296 85.3 L298.5 82.5 L300.5 80 L302.7 85.3 L305.5 88.3 L308 90 L310 89.2 L312.2 93.3 L314.7 96.7 L316.7 93.3 L318.5 87.5 L320.8 93.7 L323 92.5 L325.2 93.3 L327.2 88.3 L329.7 76.2 L332.2 78 L334.7 78.3 L337.2 71.7 L338.8 70.8 L341.8 73 L344.3 71.7 L346.8 68.3 L349.3 63.3 L351.3 60.3 L355 60.3 L357.7 68.7 L359.7 70.3 L362.7 75.3 L364.7 78.3 L367.2 74.7 L369.3 72.5 L372.2 61.7 L374.7 60.5 L376.3 59.7 L378.3 57.5 L380.5 59.2 L382 62.5 L383.7 63.8 L386.2 61.7 L388.3 60.8 L390 62.5 L392.3 70 L394.5 74.7 L397 71.7 L399.5 70.8 L402 72.5 L404.2 78.7 L408.7 78.7 L410.7 73.8 L412.8 73.3 L415.3 68.3 L417.8 73.3 L422 83 L424.5 78.8 L427 75 L429.2 78.7 L433.7 78.7 L435.3 88.3 L437.8 92.5 L439.5 80 L442 73.3 L444 71.2 L447 71.2 L449.2 80 L451.2 75 L453.7 72.5 L456.5 64.5 L458.7 73.8 L461.2 71.3 L463.7 68.7 L465.8 69.2 L468.3 71.3 L470.3 71.7 L472.8 74.2 L475 75.8 L477.5 71.7 L482 75.8 L485.3 68.3 L488.7 60.3 L491.2 63.8 L493.3 63.8 L497 53.3 L499.5 51.7 L502 49.5 L504.5 58.3 L506 62.5 L507.7 62.2 L509.7 58.3 L511.3 57 L513.5 66.3 L515.7 65.8 L518 68.3 L520.2 67 L522.7 68.7 L525.2 68 L527.7 65 L530.2 62.5 L532.7 64.2 L534.8 67.8 L537.2 61.2 L539.3 59.7 L541.3 56.7 L543.5 56.2 L545.7 59.2 L547.7 59.2 L549.7 54.7 L551.8 52.5 L554.3 51.3 L556.8 51.2 L559.3 50.3 L561.8 48 L564.3 46.3 L566.3 47.5 L568 53.3 L569.3 60.8 L571.3 74.7 L573.8 64.7 L576 67.5 L578.5 70 L580.2 68.7 L582.7 72.2 L584.8 73.7 L587.2 72 L589.3 68.3 L591.8 65 L594.3 60.8 L596.8 56.7 L598.5 55.3 L600.7 55 L603 52.2 L604.3 59.2 L605.7 64.2 L607.7 61.3 L609.7 58 L612.2 56.7 L612.2 58.1Z" fill="#55b5ac" opacity="0.9" clip-path="url(#rsiTop)"/>
<line x1="12.6" x2="732.4" y1="97.9" y2="97.9" stroke="#e6f5c8" stroke-width="1" opacity="0.8"/>
<line x1="12.6" x2="732.4" y1="58.5" y2="58.5" stroke="#4444d8" stroke-width="1.15" shape-rendering="crispEdges"/>
<line x1="12.6" x2="732.4" y1="99.5" y2="99.5" stroke="#4444d8" stroke-width="1.15" shape-rendering="crispEdges"/>
<line x1="12.6" x2="732.4" y1="78.6" y2="78.6" stroke="#4444d8" stroke-width="1.05" stroke-dasharray="7 2.2 2 2.2"/>
<path d="M13.3 83.7 L15.8 69.7 L18 70 L20.5 63.3 L23 68.3 L25 66.2 L27.8 69.5 L30 68.7 L32.5 66.2 L35 68.3 L36.7 67.2 L39.2 73.8 L41.7 70.3 L45.8 66.7 L51.7 64.7 L53.7 60 L56.3 54.2 L59.2 52.2 L61.7 62.2 L64.2 62.2 L66.3 60.8 L68.7 65.5 L73 64.2 L75.8 74.7 L80 70.3 L82.8 72.2 L84.7 72.5 L87 75.3 L89.5 68.8 L92 75.8 L94.2 78.7 L96.3 85.3 L98.3 80.3 L100 80 L102.5 75.5 L104.5 76.2 L107 75 L109.5 81.7 L111.7 81.7 L114.5 78.7 L116.7 80 L119.2 84.2 L121.3 82.5 L125.8 91.3 L128.3 94.2 L133.3 88 L137.3 89.7 L139.8 85.8 L142.3 81.7 L144.8 81.3 L146.8 83 L149 74.7 L151.5 72.8 L153.2 68.3 L155.3 65.3 L157.7 67.5 L160.2 70 L162.3 85 L164.8 84.2 L166.8 83 L169.5 79.2 L172 78.8 L174 80.5 L177 78.8 L178.7 85.3 L181 83.7 L183.5 82.2 L185.7 77.2 L187.7 75 L190.7 83 L193.2 86.7 L195.7 86.3 L198.2 85.5 L200.7 85 L204 79.5 L206.5 80 L208.2 74.2 L210.7 68 L213.2 71.7 L215.3 81.7 L217.3 82 L219.8 81.7 L222.3 79.2 L224.8 76.7 L226.8 74.7 L229.3 80 L231.5 76.2 L233.7 74.5 L236.5 81.3 L239 78 L243.2 66.3 L244.8 67.5 L247.3 60.3 L249.8 59.2 L252.7 68.3 L254.8 66.3 L257.3 70.5 L259.8 67.5 L261.7 65.3 L263.3 71.3 L267.2 77.5 L270 87.2 L272.5 82.5 L274.7 80.8 L277.2 81.3 L279.3 79.2 L282.2 83 L285.5 86.7 L288 91.7 L291 96.7 L293.5 91.7 L296 85.3 L298.5 82.5 L300.5 80 L302.7 85.3 L305.5 88.3 L308 90 L310 89.2 L312.2 93.3 L314.7 96.7 L316.7 93.3 L318.5 87.5 L320.8 93.7 L323 92.5 L325.2 93.3 L327.2 88.3 L329.7 76.2 L332.2 78 L334.7 78.3 L337.2 71.7 L338.8 70.8 L341.8 73 L344.3 71.7 L346.8 68.3 L349.3 63.3 L351.3 60.3 L355 60.3 L357.7 68.7 L359.7 70.3 L362.7 75.3 L364.7 78.3 L367.2 74.7 L369.3 72.5 L372.2 61.7 L374.7 60.5 L376.3 59.7 L378.3 57.5 L380.5 59.2 L382 62.5 L383.7 63.8 L386.2 61.7 L388.3 60.8 L390 62.5 L392.3 70 L394.5 74.7 L397 71.7 L399.5 70.8 L402 72.5 L404.2 78.7 L408.7 78.7 L410.7 73.8 L412.8 73.3 L415.3 68.3 L417.8 73.3 L422 83 L424.5 78.8 L427 75 L429.2 78.7 L433.7 78.7 L435.3 88.3 L437.8 92.5 L439.5 80 L442 73.3 L444 71.2 L447 71.2 L449.2 80 L451.2 75 L453.7 72.5 L456.5 64.5 L458.7 73.8 L461.2 71.3 L463.7 68.7 L465.8 69.2 L468.3 71.3 L470.3 71.7 L472.8 74.2 L475 75.8 L477.5 71.7 L482 75.8 L485.3 68.3 L488.7 60.3 L491.2 63.8 L493.3 63.8 L497 53.3 L499.5 51.7 L502 49.5 L504.5 58.3 L506 62.5 L507.7 62.2 L509.7 58.3 L511.3 57 L513.5 66.3 L515.7 65.8 L518 68.3 L520.2 67 L522.7 68.7 L525.2 68 L527.7 65 L530.2 62.5 L532.7 64.2 L534.8 67.8 L537.2 61.2 L539.3 59.7 L541.3 56.7 L543.5 56.2 L545.7 59.2 L547.7 59.2 L549.7 54.7 L551.8 52.5 L554.3 51.3 L556.8 51.2 L559.3 50.3 L561.8 48 L564.3 46.3 L566.3 47.5 L568 53.3 L569.3 60.8 L571.3 74.7 L573.8 64.7 L576 67.5 L578.5 70 L580.2 68.7 L582.7 72.2 L584.8 73.7 L587.2 72 L589.3 68.3 L591.8 65 L594.3 60.8 L596.8 56.7 L598.5 55.3 L600.7 55 L603 52.2 L604.3 59.2 L605.7 64.2 L607.7 61.3 L609.7 58 L612.2 56.7" fill="none" stroke="#4444d8" stroke-width="1.15" stroke-linejoin="round"/>
<line x1="600.2" y1="46.2" x2="631.5" y2="47.1" stroke="#ff9412" stroke-width="3.7" stroke-dasharray="3.2 1.55"/>
<path d="M631.2 41 L643.4 47.3 L631.6 52.9Z" fill="#ff9412"/>
<line x1="595.6" y1="66.2" x2="624.5" y2="67" stroke="#ff9412" stroke-width="3.7" stroke-dasharray="3.2 1.55"/>
<path d="M624.3 61.2 L638.4 67.6 L626 73Z" fill="#ff9412"/>
<path d="M14.5 214V243M16.5 224V228M18.5 210V228M21.5 209V213M23.5 197V212M25.5 191V204M28.5 192V196M30.5 187V195M32.5 185V190M34.5 181V190M37.5 180V187M39.5 183V187M41.5 182V194M44.5 189V193M46.5 178V195M48.5 172V181M51.5 171V176M53.5 160V178M55.5 160V166M57.5 151V164M60.5 146V161M62.5 147V158M64.5 153V160M67.5 151V157M69.5 150V155M71.5 153V162M73.5 150V165M76.5 150V169M78.5 159V169M80.5 158V167M83.5 153V164M85.5 153V160M87.5 156V164M90.5 158V165M92.5 158V170M94.5 166V173M96.5 168V180M99.5 169V183M101.5 163V177M103.5 165V169M106.5 158V169M108.5 161V167M110.5 161V169M112.5 167V175M115.5 170V177M117.5 167V175M119.5 166V174M122.5 167V174M124.5 171V180M126.5 174V188M129.5 182V186M131.5 180V189M133.5 176V181M135.5 178V187M138.5 179V185M140.5 177V188M142.5 175V184M145.5 176V181M147.5 173V182M149.5 173V183M151.5 170V180M154.5 167V175M156.5 164V172M158.5 159V171M161.5 159V171M163.5 170V183M165.5 179V184M167.5 178V185M170.5 180V183M172.5 180V186M174.5 182V192M177.5 187V193M179.5 181V192M181.5 180V195M184.5 192V196M186.5 188V199M188.5 186V193M190.5 187V192M193.5 187V195M195.5 191V201M197.5 196V203M200.5 192V203M202.5 189V197M204.5 189V193M206.5 187V193M209.5 186V188M211.5 179V190M213.5 178V192M216.5 186V195M218.5 192V195M220.5 193V198M223.5 190V199M225.5 190V195M227.5 190V195M229.5 191V198M232.5 193V201M234.5 190V199M236.5 189V202M239.5 199V203M241.5 193V203M243.5 185V200M245.5 186V193M248.5 178V193M250.5 178V185M252.5 175V182M255.5 172V180M257.5 175V182M259.5 177V181M262.5 171V182M264.5 170V179M266.5 175V191M268.5 188V193M271.5 188V203M273.5 196V201M275.5 194V199M278.5 192V200M280.5 194V198M282.5 192V201M284.5 199V208M287.5 205V211M289.5 209V217M291.5 213V220M294.5 214V218M296.5 211V219M298.5 210V215M301.5 206V211M303.5 209V214M305.5 211V215M307.5 212V219M310.5 218V220M312.5 215V220M314.5 215V223M317.5 221V225M319.5 216V226M321.5 216V225M323.5 217V225M326.5 218V222M328.5 220V224M330.5 212V222M333.5 209V213M335.5 208V213M337.5 201V212M340.5 200V205M342.5 198V208M344.5 202V209M346.5 202V206M349.5 197V205M351.5 193V198M353.5 192V198M356.5 190V198M358.5 194V199M360.5 196V206M362.5 203V209M365.5 204V210M367.5 205V210M369.5 206V210M372.5 204V212M374.5 199V207M376.5 196V204M379.5 189V201M381.5 186V196M383.5 186V196M385.5 190V199M388.5 190V198M390.5 192V197M392.5 195V200M395.5 196V203M397.5 200V204M399.5 199V205M401.5 197V203M404.5 198V208M406.5 203V208M408.5 203V205M411.5 199V205M413.5 194V202M415.5 194V203M418.5 199V208M420.5 202V207M422.5 201V208M424.5 207V209M427.5 205V211M429.5 204V209M431.5 205V209M434.5 205V209M436.5 207V211M438.5 209V215M440.5 207V215M443.5 202V213M445.5 203V208M447.5 203V208M450.5 203V212M452.5 206V212M454.5 206V211M457.5 198V208M459.5 198V204M461.5 200V204M463.5 196V206M466.5 194V201M468.5 197V203M470.5 200V208M473.5 205V208M475.5 204V210M477.5 207V210M479.5 206V216M482.5 210V214M484.5 209V213M486.5 211V213M489.5 205V214M491.5 201V208M493.5 199V206M496.5 197V205M498.5 190V199M500.5 187V197M502.5 185V193M505.5 186V194M507.5 189V193M509.5 179V191M512.5 176V185M514.5 177V185M516.5 179V185M518.5 179V188M521.5 183V191M523.5 186V192M525.5 184V192M528.5 183V191M530.5 177V189M532.5 174V185M535.5 174V184M537.5 180V185M539.5 182V191M541.5 182V192M544.5 179V188M546.5 178V181M548.5 177V188M551.5 174V189M553.5 166V181M555.5 168V173M557.5 169V178M560.5 168V178M562.5 165V176M564.5 158V168M567.5 157V168M569.5 162V173M571.5 165V182M574.5 176V184M576.5 174V184M578.5 175V181M580.5 172V181M583.5 175V184M585.5 179V188M587.5 181V188M590.5 182V186M592.5 174V188M594.5 173V179M596.5 169V174M599.5 163V174M601.5 159V167M603.5 161V165M606.5 159V169M608.5 162V170M610.5 154V171M613.5 150V164" stroke="#000" stroke-width="1" fill="none" shape-rendering="crispEdges"/>
<g shape-rendering="crispEdges"><rect x="13" y="226" width="3" height="14" fill="#000" opacity="0.78"/><rect x="14" y="227" width="1" height="12" fill="#a9b3a2"/><rect x="15" y="225" width="3" height="2" fill="#000" opacity="0.78"/><rect x="17" y="212" width="3" height="14" fill="#000" opacity="0.78"/><rect x="18" y="213" width="1" height="12" fill="#a9b3a2"/><rect x="20" y="210" width="3" height="2" fill="#000" opacity="0.78"/><rect x="22" y="200" width="3" height="10" fill="#000" opacity="0.78"/><rect x="23" y="201" width="1" height="8" fill="#a9b3a2"/><rect x="24" y="195" width="3" height="5" fill="#000" opacity="0.78"/><rect x="25" y="196" width="1" height="3" fill="#a9b3a2"/><rect x="27" y="194" width="3" height="2" fill="#000" opacity="0.78"/><rect x="29" y="189" width="3" height="6" fill="#000" opacity="0.78"/><rect x="30" y="190" width="1" height="4" fill="#a9b3a2"/><rect x="31" y="186" width="3" height="3" fill="#000" opacity="0.78"/><rect x="32" y="187" width="1" height="1" fill="#a9b3a2"/><rect x="33" y="183" width="3" height="3" fill="#000" opacity="0.78"/><rect x="34" y="184" width="1" height="1" fill="#a9b3a2"/><rect x="36" y="183" width="3" height="2" fill="#000" opacity="0.78"/><rect x="38" y="185" width="3" height="2" fill="#000" opacity="0.78"/><rect x="40" y="186" width="3" height="4" fill="#000" opacity="0.78"/><rect x="43" y="190" width="3" height="2" fill="#000" opacity="0.78"/><rect x="45" y="179" width="3" height="13" fill="#000" opacity="0.78"/><rect x="46" y="180" width="1" height="11" fill="#a9b3a2"/><rect x="47" y="176" width="3" height="3" fill="#000" opacity="0.78"/><rect x="48" y="177" width="1" height="1" fill="#a9b3a2"/><rect x="50" y="175" width="3" height="2" fill="#000" opacity="0.78"/><rect x="52" y="165" width="3" height="10" fill="#000" opacity="0.78"/><rect x="53" y="166" width="1" height="8" fill="#a9b3a2"/><rect x="54" y="162" width="3" height="3" fill="#000" opacity="0.78"/><rect x="55" y="163" width="1" height="1" fill="#a9b3a2"/><rect x="56" y="156" width="3" height="6" fill="#000" opacity="0.78"/><rect x="57" y="157" width="1" height="4" fill="#a9b3a2"/><rect x="59" y="148" width="3" height="8" fill="#000" opacity="0.78"/><rect x="60" y="149" width="1" height="6" fill="#a9b3a2"/><rect x="61" y="148" width="3" height="8" fill="#000" opacity="0.78"/><rect x="63" y="154" width="3" height="2" fill="#000" opacity="0.78"/><rect x="66" y="153" width="3" height="2" fill="#000" opacity="0.78"/><rect x="68" y="153" width="3" height="2" fill="#000" opacity="0.78"/><rect x="70" y="154" width="3" height="5" fill="#000" opacity="0.78"/><rect x="72" y="152" width="3" height="7" fill="#000" opacity="0.78"/><rect x="73" y="153" width="1" height="5" fill="#a9b3a2"/><rect x="75" y="152" width="3" height="12" fill="#000" opacity="0.78"/><rect x="77" y="161" width="3" height="3" fill="#000" opacity="0.78"/><rect x="78" y="162" width="1" height="1" fill="#a9b3a2"/><rect x="79" y="159" width="3" height="2" fill="#000" opacity="0.78"/><rect x="82" y="155" width="3" height="4" fill="#000" opacity="0.78"/><rect x="83" y="156" width="1" height="2" fill="#a9b3a2"/><rect x="84" y="155" width="3" height="4" fill="#000" opacity="0.78"/><rect x="86" y="159" width="3" height="3" fill="#000" opacity="0.78"/><rect x="89" y="161" width="3" height="2" fill="#000" opacity="0.78"/><rect x="91" y="161" width="3" height="6" fill="#000" opacity="0.78"/><rect x="93" y="167" width="3" height="5" fill="#000" opacity="0.78"/><rect x="95" y="172" width="3" height="6" fill="#000" opacity="0.78"/><rect x="98" y="172" width="3" height="6" fill="#000" opacity="0.78"/><rect x="99" y="173" width="1" height="4" fill="#a9b3a2"/><rect x="100" y="168" width="3" height="4" fill="#000" opacity="0.78"/><rect x="101" y="169" width="1" height="2" fill="#a9b3a2"/><rect x="102" y="167" width="3" height="2" fill="#000" opacity="0.78"/><rect x="105" y="163" width="3" height="4" fill="#000" opacity="0.78"/><rect x="106" y="164" width="1" height="2" fill="#a9b3a2"/><rect x="107" y="162" width="3" height="2" fill="#000" opacity="0.78"/><rect x="109" y="163" width="3" height="5" fill="#000" opacity="0.78"/><rect x="111" y="168" width="3" height="6" fill="#000" opacity="0.78"/><rect x="114" y="173" width="3" height="2" fill="#000" opacity="0.78"/><rect x="116" y="171" width="3" height="3" fill="#000" opacity="0.78"/><rect x="117" y="172" width="1" height="1" fill="#a9b3a2"/><rect x="118" y="168" width="3" height="3" fill="#000" opacity="0.78"/><rect x="119" y="169" width="1" height="1" fill="#a9b3a2"/><rect x="121" y="168" width="3" height="4" fill="#000" opacity="0.78"/><rect x="123" y="172" width="3" height="6" fill="#000" opacity="0.78"/><rect x="125" y="178" width="3" height="7" fill="#000" opacity="0.78"/><rect x="128" y="184" width="3" height="2" fill="#000" opacity="0.78"/><rect x="130" y="180" width="3" height="5" fill="#000" opacity="0.78"/><rect x="131" y="181" width="1" height="3" fill="#a9b3a2"/><rect x="132" y="179" width="3" height="2" fill="#000" opacity="0.78"/><rect x="134" y="180" width="3" height="3" fill="#000" opacity="0.78"/><rect x="137" y="183" width="3" height="2" fill="#000" opacity="0.78"/><rect x="139" y="180" width="3" height="4" fill="#000" opacity="0.78"/><rect x="140" y="181" width="1" height="2" fill="#a9b3a2"/><rect x="141" y="178" width="3" height="2" fill="#000" opacity="0.78"/><rect x="144" y="177" width="3" height="2" fill="#000" opacity="0.78"/><rect x="146" y="177" width="3" height="3" fill="#000" opacity="0.78"/><rect x="148" y="177" width="3" height="3" fill="#000" opacity="0.78"/><rect x="149" y="178" width="1" height="1" fill="#a9b3a2"/><rect x="150" y="172" width="3" height="5" fill="#000" opacity="0.78"/><rect x="151" y="173" width="1" height="3" fill="#a9b3a2"/><rect x="153" y="168" width="3" height="4" fill="#000" opacity="0.78"/><rect x="154" y="169" width="1" height="2" fill="#a9b3a2"/><rect x="155" y="167" width="3" height="2" fill="#000" opacity="0.78"/><rect x="157" y="163" width="3" height="5" fill="#000" opacity="0.78"/><rect x="158" y="164" width="1" height="3" fill="#a9b3a2"/><rect x="160" y="163" width="3" height="7" fill="#000" opacity="0.78"/><rect x="162" y="170" width="3" height="11" fill="#000" opacity="0.78"/><rect x="164" y="180" width="3" height="2" fill="#000" opacity="0.78"/><rect x="166" y="180" width="3" height="2" fill="#000" opacity="0.78"/><rect x="169" y="180" width="3" height="2" fill="#000" opacity="0.78"/><rect x="171" y="181" width="3" height="4" fill="#000" opacity="0.78"/><rect x="173" y="185" width="3" height="5" fill="#000" opacity="0.78"/><rect x="176" y="188" width="3" height="2" fill="#000" opacity="0.78"/><rect x="178" y="183" width="3" height="6" fill="#000" opacity="0.78"/><rect x="179" y="184" width="1" height="4" fill="#a9b3a2"/><rect x="180" y="183" width="3" height="11" fill="#000" opacity="0.78"/><rect x="183" y="194" width="3" height="2" fill="#000" opacity="0.78"/><rect x="185" y="192" width="3" height="3" fill="#000" opacity="0.78"/><rect x="186" y="193" width="1" height="1" fill="#a9b3a2"/><rect x="187" y="190" width="3" height="2" fill="#000" opacity="0.78"/><rect x="189" y="189" width="3" height="2" fill="#000" opacity="0.78"/><rect x="192" y="189" width="3" height="3" fill="#000" opacity="0.78"/><rect x="194" y="192" width="3" height="5" fill="#000" opacity="0.78"/><rect x="196" y="197" width="3" height="5" fill="#000" opacity="0.78"/><rect x="199" y="195" width="3" height="7" fill="#000" opacity="0.78"/><rect x="200" y="196" width="1" height="5" fill="#a9b3a2"/><rect x="201" y="192" width="3" height="3" fill="#000" opacity="0.78"/><rect x="202" y="193" width="1" height="1" fill="#a9b3a2"/><rect x="203" y="190" width="3" height="2" fill="#000" opacity="0.78"/><rect x="205" y="187" width="3" height="3" fill="#000" opacity="0.78"/><rect x="206" y="188" width="1" height="1" fill="#a9b3a2"/><rect x="208" y="186" width="3" height="2" fill="#000" opacity="0.78"/><rect x="210" y="182" width="3" height="5" fill="#000" opacity="0.78"/><rect x="211" y="183" width="1" height="3" fill="#a9b3a2"/><rect x="212" y="182" width="3" height="5" fill="#000" opacity="0.78"/><rect x="215" y="187" width="3" height="6" fill="#000" opacity="0.78"/><rect x="217" y="192" width="3" height="2" fill="#000" opacity="0.78"/><rect x="219" y="193" width="3" height="4" fill="#000" opacity="0.78"/><rect x="222" y="193" width="3" height="4" fill="#000" opacity="0.78"/><rect x="223" y="194" width="1" height="2" fill="#a9b3a2"/><rect x="224" y="192" width="3" height="2" fill="#000" opacity="0.78"/><rect x="226" y="193" width="3" height="2" fill="#000" opacity="0.78"/><rect x="228" y="194" width="3" height="3" fill="#000" opacity="0.78"/><rect x="231" y="196" width="3" height="2" fill="#000" opacity="0.78"/><rect x="233" y="193" width="3" height="3" fill="#000" opacity="0.78"/><rect x="234" y="194" width="1" height="1" fill="#a9b3a2"/><rect x="235" y="193" width="3" height="8" fill="#000" opacity="0.78"/><rect x="238" y="199" width="3" height="2" fill="#000" opacity="0.78"/><rect x="240" y="196" width="3" height="4" fill="#000" opacity="0.78"/><rect x="241" y="197" width="1" height="2" fill="#a9b3a2"/><rect x="242" y="189" width="3" height="7" fill="#000" opacity="0.78"/><rect x="243" y="190" width="1" height="5" fill="#a9b3a2"/><rect x="244" y="188" width="3" height="2" fill="#000" opacity="0.78"/><rect x="247" y="182" width="3" height="7" fill="#000" opacity="0.78"/><rect x="248" y="183" width="1" height="5" fill="#a9b3a2"/><rect x="249" y="178" width="3" height="4" fill="#000" opacity="0.78"/><rect x="250" y="179" width="1" height="2" fill="#a9b3a2"/><rect x="251" y="178" width="3" height="2" fill="#000" opacity="0.78"/><rect x="254" y="176" width="3" height="3" fill="#000" opacity="0.78"/><rect x="255" y="177" width="1" height="1" fill="#a9b3a2"/><rect x="256" y="176" width="3" height="4" fill="#000" opacity="0.78"/><rect x="258" y="178" width="3" height="2" fill="#000" opacity="0.78"/><rect x="261" y="174" width="3" height="4" fill="#000" opacity="0.78"/><rect x="262" y="175" width="1" height="2" fill="#a9b3a2"/><rect x="263" y="174" width="3" height="2" fill="#000" opacity="0.78"/><rect x="265" y="176" width="3" height="14" fill="#000" opacity="0.78"/><rect x="267" y="189" width="3" height="2" fill="#000" opacity="0.78"/><rect x="270" y="190" width="3" height="10" fill="#000" opacity="0.78"/><rect x="272" y="198" width="3" height="2" fill="#000" opacity="0.78"/><rect x="274" y="197" width="3" height="2" fill="#000" opacity="0.78"/><rect x="277" y="196" width="3" height="2" fill="#000" opacity="0.78"/><rect x="279" y="194" width="3" height="2" fill="#000" opacity="0.78"/><rect x="281" y="195" width="3" height="6" fill="#000" opacity="0.78"/><rect x="283" y="201" width="3" height="6" fill="#000" opacity="0.78"/><rect x="286" y="207" width="3" height="3" fill="#000" opacity="0.78"/><rect x="288" y="210" width="3" height="6" fill="#000" opacity="0.78"/><rect x="290" y="216" width="3" height="2" fill="#000" opacity="0.78"/><rect x="293" y="216" width="3" height="2" fill="#000" opacity="0.78"/><rect x="295" y="214" width="3" height="2" fill="#000" opacity="0.78"/><rect x="297" y="211" width="3" height="3" fill="#000" opacity="0.78"/><rect x="298" y="212" width="1" height="1" fill="#a9b3a2"/><rect x="300" y="209" width="3" height="2" fill="#000" opacity="0.78"/><rect x="302" y="209" width="3" height="5" fill="#000" opacity="0.78"/><rect x="304" y="213" width="3" height="2" fill="#000" opacity="0.78"/><rect x="306" y="214" width="3" height="5" fill="#000" opacity="0.78"/><rect x="309" y="218" width="3" height="2" fill="#000" opacity="0.78"/><rect x="311" y="216" width="3" height="2" fill="#000" opacity="0.78"/><rect x="313" y="216" width="3" height="5" fill="#000" opacity="0.78"/><rect x="316" y="221" width="3" height="3" fill="#000" opacity="0.78"/><rect x="318" y="218" width="3" height="6" fill="#000" opacity="0.78"/><rect x="319" y="219" width="1" height="4" fill="#a9b3a2"/><rect x="320" y="218" width="3" height="5" fill="#000" opacity="0.78"/><rect x="322" y="219" width="3" height="4" fill="#000" opacity="0.78"/><rect x="323" y="220" width="1" height="2" fill="#a9b3a2"/><rect x="325" y="219" width="3" height="2" fill="#000" opacity="0.78"/><rect x="327" y="220" width="3" height="2" fill="#000" opacity="0.78"/><rect x="329" y="212" width="3" height="9" fill="#000" opacity="0.78"/><rect x="330" y="213" width="1" height="7" fill="#a9b3a2"/><rect x="332" y="210" width="3" height="2" fill="#000" opacity="0.78"/><rect x="334" y="209" width="3" height="2" fill="#000" opacity="0.78"/><rect x="336" y="203" width="3" height="7" fill="#000" opacity="0.78"/><rect x="337" y="204" width="1" height="5" fill="#a9b3a2"/><rect x="339" y="201" width="3" height="2" fill="#000" opacity="0.78"/><rect x="341" y="201" width="3" height="7" fill="#000" opacity="0.78"/><rect x="343" y="205" width="3" height="3" fill="#000" opacity="0.78"/><rect x="344" y="206" width="1" height="1" fill="#a9b3a2"/><rect x="345" y="203" width="3" height="2" fill="#000" opacity="0.78"/><rect x="348" y="197" width="3" height="6" fill="#000" opacity="0.78"/><rect x="349" y="198" width="1" height="4" fill="#a9b3a2"/><rect x="350" y="195" width="3" height="2" fill="#000" opacity="0.78"/><rect x="352" y="193" width="3" height="2" fill="#000" opacity="0.78"/><rect x="355" y="193" width="3" height="4" fill="#000" opacity="0.78"/><rect x="357" y="197" width="3" height="2" fill="#000" opacity="0.78"/><rect x="359" y="197" width="3" height="7" fill="#000" opacity="0.78"/><rect x="361" y="204" width="3" height="3" fill="#000" opacity="0.78"/><rect x="364" y="206" width="3" height="2" fill="#000" opacity="0.78"/><rect x="366" y="206" width="3" height="2" fill="#000" opacity="0.78"/><rect x="368" y="207" width="3" height="2" fill="#000" opacity="0.78"/><rect x="371" y="204" width="3" height="5" fill="#000" opacity="0.78"/><rect x="372" y="205" width="1" height="3" fill="#a9b3a2"/><rect x="373" y="201" width="3" height="3" fill="#000" opacity="0.78"/><rect x="374" y="202" width="1" height="1" fill="#a9b3a2"/><rect x="375" y="197" width="3" height="4" fill="#000" opacity="0.78"/><rect x="376" y="198" width="1" height="2" fill="#a9b3a2"/><rect x="378" y="193" width="3" height="4" fill="#000" opacity="0.78"/><rect x="379" y="194" width="1" height="2" fill="#a9b3a2"/><rect x="380" y="190" width="3" height="3" fill="#000" opacity="0.78"/><rect x="381" y="191" width="1" height="1" fill="#a9b3a2"/><rect x="382" y="190" width="3" height="4" fill="#000" opacity="0.78"/><rect x="384" y="194" width="3" height="2" fill="#000" opacity="0.78"/><rect x="387" y="193" width="3" height="3" fill="#000" opacity="0.78"/><rect x="388" y="194" width="1" height="1" fill="#a9b3a2"/><rect x="389" y="193" width="3" height="2" fill="#000" opacity="0.78"/><rect x="391" y="195" width="3" height="3" fill="#000" opacity="0.78"/><rect x="394" y="198" width="3" height="4" fill="#000" opacity="0.78"/><rect x="396" y="202" width="3" height="2" fill="#000" opacity="0.78"/><rect x="398" y="201" width="3" height="2" fill="#000" opacity="0.78"/><rect x="400" y="200" width="3" height="2" fill="#000" opacity="0.78"/><rect x="403" y="200" width="3" height="5" fill="#000" opacity="0.78"/><rect x="405" y="204" width="3" height="2" fill="#000" opacity="0.78"/><rect x="407" y="204" width="3" height="2" fill="#000" opacity="0.78"/><rect x="410" y="200" width="3" height="5" fill="#000" opacity="0.78"/><rect x="411" y="201" width="1" height="3" fill="#a9b3a2"/><rect x="412" y="197" width="3" height="3" fill="#000" opacity="0.78"/><rect x="413" y="198" width="1" height="1" fill="#a9b3a2"/><rect x="414" y="197" width="3" height="4" fill="#000" opacity="0.78"/><rect x="417" y="201" width="3" height="4" fill="#000" opacity="0.78"/><rect x="419" y="204" width="3" height="2" fill="#000" opacity="0.78"/><rect x="421" y="204" width="3" height="3" fill="#000" opacity="0.78"/><rect x="423" y="207" width="3" height="2" fill="#000" opacity="0.78"/><rect x="426" y="205" width="3" height="2" fill="#000" opacity="0.78"/><rect x="428" y="205" width="3" height="2" fill="#000" opacity="0.78"/><rect x="430" y="206" width="3" height="2" fill="#000" opacity="0.78"/><rect x="433" y="206" width="3" height="2" fill="#000" opacity="0.78"/><rect x="435" y="207" width="3" height="3" fill="#000" opacity="0.78"/><rect x="437" y="210" width="3" height="2" fill="#000" opacity="0.78"/><rect x="439" y="210" width="3" height="2" fill="#000" opacity="0.78"/><rect x="442" y="206" width="3" height="4" fill="#000" opacity="0.78"/><rect x="443" y="207" width="1" height="2" fill="#a9b3a2"/><rect x="444" y="205" width="3" height="2" fill="#000" opacity="0.78"/><rect x="446" y="206" width="3" height="2" fill="#000" opacity="0.78"/><rect x="449" y="207" width="3" height="2" fill="#000" opacity="0.78"/><rect x="451" y="208" width="3" height="2" fill="#000" opacity="0.78"/><rect x="453" y="207" width="3" height="2" fill="#000" opacity="0.78"/><rect x="456" y="199" width="3" height="8" fill="#000" opacity="0.78"/><rect x="457" y="200" width="1" height="6" fill="#a9b3a2"/><rect x="458" y="199" width="3" height="3" fill="#000" opacity="0.78"/><rect x="460" y="202" width="3" height="2" fill="#000" opacity="0.78"/><rect x="462" y="198" width="3" height="5" fill="#000" opacity="0.78"/><rect x="463" y="199" width="1" height="3" fill="#a9b3a2"/><rect x="465" y="197" width="3" height="2" fill="#000" opacity="0.78"/><rect x="467" y="198" width="3" height="5" fill="#000" opacity="0.78"/><rect x="469" y="203" width="3" height="3" fill="#000" opacity="0.78"/><rect x="472" y="205" width="3" height="2" fill="#000" opacity="0.78"/><rect x="474" y="206" width="3" height="2" fill="#000" opacity="0.78"/><rect x="476" y="207" width="3" height="2" fill="#000" opacity="0.78"/><rect x="478" y="209" width="3" height="4" fill="#000" opacity="0.78"/><rect x="481" y="211" width="3" height="2" fill="#000" opacity="0.78"/><rect x="483" y="211" width="3" height="2" fill="#000" opacity="0.78"/><rect x="485" y="211" width="3" height="2" fill="#000" opacity="0.78"/><rect x="488" y="207" width="3" height="5" fill="#000" opacity="0.78"/><rect x="489" y="208" width="1" height="3" fill="#a9b3a2"/><rect x="490" y="203" width="3" height="4" fill="#000" opacity="0.78"/><rect x="491" y="204" width="1" height="2" fill="#a9b3a2"/><rect x="492" y="202" width="3" height="2" fill="#000" opacity="0.78"/><rect x="495" y="198" width="3" height="4" fill="#000" opacity="0.78"/><rect x="496" y="199" width="1" height="2" fill="#a9b3a2"/><rect x="497" y="193" width="3" height="5" fill="#000" opacity="0.78"/><rect x="498" y="194" width="1" height="3" fill="#a9b3a2"/><rect x="499" y="188" width="3" height="5" fill="#000" opacity="0.78"/><rect x="500" y="189" width="1" height="3" fill="#a9b3a2"/><rect x="501" y="187" width="3" height="2" fill="#000" opacity="0.78"/><rect x="504" y="189" width="3" height="2" fill="#000" opacity="0.78"/><rect x="506" y="190" width="3" height="2" fill="#000" opacity="0.78"/><rect x="508" y="183" width="3" height="7" fill="#000" opacity="0.78"/><rect x="509" y="184" width="1" height="5" fill="#a9b3a2"/><rect x="511" y="179" width="3" height="4" fill="#000" opacity="0.78"/><rect x="512" y="180" width="1" height="2" fill="#a9b3a2"/><rect x="513" y="179" width="3" height="3" fill="#000" opacity="0.78"/><rect x="515" y="180" width="3" height="2" fill="#000" opacity="0.78"/><rect x="517" y="180" width="3" height="4" fill="#000" opacity="0.78"/><rect x="520" y="184" width="3" height="6" fill="#000" opacity="0.78"/><rect x="522" y="189" width="3" height="2" fill="#000" opacity="0.78"/><rect x="524" y="187" width="3" height="2" fill="#000" opacity="0.78"/><rect x="527" y="186" width="3" height="2" fill="#000" opacity="0.78"/><rect x="529" y="180" width="3" height="7" fill="#000" opacity="0.78"/><rect x="530" y="181" width="1" height="5" fill="#a9b3a2"/><rect x="531" y="176" width="3" height="4" fill="#000" opacity="0.78"/><rect x="532" y="177" width="1" height="2" fill="#a9b3a2"/><rect x="534" y="176" width="3" height="6" fill="#000" opacity="0.78"/><rect x="536" y="182" width="3" height="2" fill="#000" opacity="0.78"/><rect x="538" y="183" width="3" height="6" fill="#000" opacity="0.78"/><rect x="540" y="184" width="3" height="5" fill="#000" opacity="0.78"/><rect x="541" y="185" width="1" height="3" fill="#a9b3a2"/><rect x="543" y="180" width="3" height="4" fill="#000" opacity="0.78"/><rect x="544" y="181" width="1" height="2" fill="#a9b3a2"/><rect x="545" y="179" width="3" height="2" fill="#000" opacity="0.78"/><rect x="547" y="180" width="3" height="5" fill="#000" opacity="0.78"/><rect x="550" y="177" width="3" height="8" fill="#000" opacity="0.78"/><rect x="551" y="178" width="1" height="6" fill="#a9b3a2"/><rect x="552" y="169" width="3" height="8" fill="#000" opacity="0.78"/><rect x="553" y="170" width="1" height="6" fill="#a9b3a2"/><rect x="554" y="169" width="3" height="2" fill="#000" opacity="0.78"/><rect x="556" y="170" width="3" height="5" fill="#000" opacity="0.78"/><rect x="559" y="172" width="3" height="3" fill="#000" opacity="0.78"/><rect x="560" y="173" width="1" height="1" fill="#a9b3a2"/><rect x="561" y="166" width="3" height="6" fill="#000" opacity="0.78"/><rect x="562" y="167" width="1" height="4" fill="#a9b3a2"/><rect x="563" y="162" width="3" height="4" fill="#000" opacity="0.78"/><rect x="564" y="163" width="1" height="2" fill="#a9b3a2"/><rect x="566" y="162" width="3" height="2" fill="#000" opacity="0.78"/><rect x="568" y="164" width="3" height="5" fill="#000" opacity="0.78"/><rect x="570" y="169" width="3" height="11" fill="#000" opacity="0.78"/><rect x="573" y="179" width="3" height="2" fill="#000" opacity="0.78"/><rect x="575" y="178" width="3" height="2" fill="#000" opacity="0.78"/><rect x="577" y="178" width="3" height="2" fill="#000" opacity="0.78"/><rect x="579" y="176" width="3" height="2" fill="#000" opacity="0.78"/><rect x="582" y="176" width="3" height="4" fill="#000" opacity="0.78"/><rect x="584" y="180" width="3" height="7" fill="#000" opacity="0.78"/><rect x="586" y="183" width="3" height="4" fill="#000" opacity="0.78"/><rect x="587" y="184" width="1" height="2" fill="#a9b3a2"/><rect x="589" y="183" width="3" height="2" fill="#000" opacity="0.78"/><rect x="591" y="177" width="3" height="7" fill="#000" opacity="0.78"/><rect x="592" y="178" width="1" height="5" fill="#a9b3a2"/><rect x="593" y="174" width="3" height="3" fill="#000" opacity="0.78"/><rect x="594" y="175" width="1" height="1" fill="#a9b3a2"/><rect x="595" y="173" width="3" height="2" fill="#000" opacity="0.78"/><rect x="598" y="164" width="3" height="9" fill="#000" opacity="0.78"/><rect x="599" y="165" width="1" height="7" fill="#a9b3a2"/><rect x="600" y="162" width="3" height="2" fill="#000" opacity="0.78"/><rect x="602" y="162" width="3" height="2" fill="#000" opacity="0.78"/><rect x="605" y="163" width="3" height="4" fill="#000" opacity="0.78"/><rect x="607" y="166" width="3" height="2" fill="#000" opacity="0.78"/><rect x="609" y="158" width="3" height="8" fill="#000" opacity="0.78"/><rect x="610" y="159" width="1" height="6" fill="#a9b3a2"/><rect x="612" y="153" width="3" height="5" fill="#000" opacity="0.78"/><rect x="613" y="154" width="1" height="3" fill="#a9b3a2"/></g>
<rect x="611.4" y="152.6" width="1.8" height="3" fill="#ddd" stroke="#000" stroke-width="0.6"/>
<g stroke="#000" stroke-width="1" fill="none"><path d="M15.8 137.6v6 M18.3 139.1v5 M20.8 137.6v6"/></g><rect x="14.8" y="138.6" width="2" height="2.6" fill="#000"/><rect x="19.8" y="140" width="2" height="2.6" fill="#000"/>
<text x="24.7" y="143.8" font-size="8.4" textLength="20.3" lengthAdjust="spacingAndGlyphs" fill="#111">GDXJ</text>
<text x="49.5" y="143.8" font-size="8.4" textLength="23.8" lengthAdjust="spacingAndGlyphs" fill="#111">56.49</text>
<g stroke="#000" stroke-width="1" fill="#000"><path d="M16.3 251.6V255.2 M18.4 254.2V257.4 M20.7 251V255.6" fill="none"/><path d="M15 252.8L16.3 250.8L17.6 252.8Z M19.4 254.6L20.7 256.8L22 254.6Z" stroke-width="0.4"/></g>
<text x="24.7" y="257.4" font-size="8.4" textLength="28.3" lengthAdjust="spacingAndGlyphs" fill="#111">$GOLD</text>
<text x="57.2" y="257.4" font-size="8.4" textLength="39.5" lengthAdjust="spacingAndGlyphs" fill="#111">(Weekly)</text>
<text x="100" y="257.4" font-size="8.4" textLength="34.7" lengthAdjust="spacingAndGlyphs" fill="#111">3006.10</text>
<path d="M14.5 533V557M16.5 512V550M18.5 515V533M21.5 500V521M23.5 492V515M25.5 498V517M28.5 502V514M30.5 503V513M32.5 498V510M34.5 496V508M37.5 498V509M39.5 500V516M41.5 500V513M44.5 494V502M46.5 491V498M48.5 488V496M51.5 487V494M53.5 480V492M55.5 472V491M57.5 453V474M60.5 440V466M62.5 442V478M64.5 448V471M67.5 455V472M69.5 454V470M71.5 458V470M73.5 457V468M76.5 461V482M78.5 467V480M80.5 466V477M83.5 465V476M85.5 467V476M87.5 468V481M90.5 460V478M92.5 461V483M94.5 474V483M96.5 480V497M99.5 478V488M101.5 474V487M103.5 472V483M106.5 471V480M108.5 470V478M110.5 461V486M112.5 478V488M115.5 477V491M117.5 476V487M119.5 478V494M122.5 481V493M124.5 487V499M126.5 496V506M129.5 501V513M131.5 500V511M133.5 500V508M135.5 501V508M138.5 502V515M140.5 500V507M142.5 494V503M145.5 492V500M147.5 493V500M149.5 483V498M151.5 482V490M154.5 474V485M156.5 469V479M158.5 468V481M161.5 472V478M163.5 472V499M165.5 492V500M167.5 492V500M170.5 488V494M172.5 486V493M174.5 485V493M177.5 484V493M179.5 485V499M181.5 494V515M184.5 492V498M186.5 487V496M188.5 483V492M190.5 485V494M193.5 488V502M195.5 494V503M197.5 498V507M200.5 495V502M202.5 491V500M204.5 490V498M206.5 488V498M209.5 478V493M211.5 477V485M213.5 481V495M216.5 485V496M218.5 489V498M220.5 492V498M223.5 488V501M225.5 488V495M227.5 485V494M229.5 486V495M232.5 484V494M234.5 482V492M236.5 481V495M239.5 488V495M241.5 479V490M243.5 472V482M245.5 459V477M248.5 458V475M250.5 442V458M252.5 455V473M255.5 460V472M257.5 462V474M259.5 463V470M262.5 457V468M264.5 453V467M266.5 465V478M268.5 470V482M271.5 476V492M273.5 481V495M275.5 478V486M278.5 476V485M280.5 475V483M282.5 476V490M284.5 482V490M287.5 484V495M289.5 493V505M291.5 502V512M294.5 502V515M296.5 493V508M298.5 488V496M301.5 486V494M303.5 488V499M305.5 495V503M307.5 500V510M310.5 502V511M312.5 502V518M314.5 510V520M317.5 512V525M319.5 502V516M321.5 508V522M323.5 515V525M326.5 513V522M328.5 512V526M330.5 496V515M333.5 492V502M335.5 494V507M337.5 488V501M340.5 488V497M342.5 484V496M344.5 485V494M346.5 483V492M349.5 478V488M351.5 468V480M353.5 465V472M356.5 462V472M358.5 458V478M360.5 472V480M362.5 476V487M365.5 481V489M367.5 480V490M369.5 478V489M372.5 457V478M374.5 452V466M376.5 450V465M379.5 444V461M381.5 442V456M383.5 449V458M385.5 450V458M388.5 442V456M390.5 443V455M392.5 449V463M395.5 455V466M397.5 454V463M399.5 456V463M401.5 457V467M404.5 462V469M406.5 465V472M408.5 465V471M411.5 459V468M413.5 455V463M415.5 453V462M418.5 452V462M420.5 457V465M422.5 463V471M424.5 463V470M427.5 458V467M429.5 459V467M431.5 462V468M434.5 459V468M436.5 464V480M438.5 479V488M440.5 464V482M443.5 453V468M445.5 451V462M447.5 451V459M450.5 453V466M452.5 456V467M454.5 452V462M457.5 442V454M459.5 424V453M461.5 442V457M463.5 441V449M466.5 441V443M468.5 441V448M470.5 442V450M473.5 443V453M475.5 444V454M477.5 442V452M479.5 442V450M482.5 444V455M484.5 444V452M486.5 441V448M489.5 416V437M491.5 418V425M493.5 412V427M496.5 408V423M498.5 389V408M500.5 370V391M502.5 374V390M505.5 378V397M507.5 387V400M509.5 382V396M512.5 374V391M514.5 371V392M516.5 385V393M518.5 378V397M521.5 387V397M523.5 382V393M525.5 388V397M528.5 378V392M530.5 374V385M532.5 362V380M535.5 371V388M537.5 356V372M539.5 364V378M541.5 352V367M544.5 348V358M546.5 349V356M548.5 348V361M551.5 339V358M553.5 332V348M555.5 321V335M557.5 324V335M560.5 325V338M562.5 316V331M564.5 311V318M567.5 306V317M569.5 312V332M571.5 324V348M574.5 320V348M576.5 318V340M578.5 326V337M580.5 311V333M583.5 328V342M585.5 330V335M587.5 327V341M590.5 317V336M592.5 314V328M594.5 307V322M596.5 292V317M599.5 283V302M601.5 272V289M603.5 271V288M606.5 272V296M608.5 278V293M610.5 263V289M613.5 265V266" stroke="#000" stroke-width="1" fill="none" shape-rendering="crispEdges"/>
<g shape-rendering="crispEdges"><rect x="13" y="539" width="3" height="13" fill="#000" opacity="0.9"/><rect x="14" y="540" width="1" height="11" fill="#8a8058"/><rect x="15" y="520" width="3" height="19" fill="#000" opacity="0.9"/><rect x="16" y="521" width="1" height="17" fill="#8a8058"/><rect x="17" y="520" width="3" height="2" fill="#000" opacity="0.9"/><rect x="20" y="504" width="3" height="13" fill="#000" opacity="0.9"/><rect x="21" y="505" width="1" height="11" fill="#8a8058"/><rect x="22" y="504" width="3" height="4" fill="#000" opacity="0.9"/><rect x="24" y="508" width="3" height="3" fill="#000" opacity="0.9"/><rect x="27" y="509" width="3" height="2" fill="#000" opacity="0.9"/><rect x="29" y="506" width="3" height="3" fill="#000" opacity="0.9"/><rect x="30" y="507" width="1" height="1" fill="#8a8058"/><rect x="31" y="501" width="3" height="5" fill="#000" opacity="0.9"/><rect x="32" y="502" width="1" height="3" fill="#8a8058"/><rect x="33" y="501" width="3" height="3" fill="#000" opacity="0.9"/><rect x="36" y="504" width="3" height="2" fill="#000" opacity="0.9"/><rect x="38" y="503" width="3" height="2" fill="#000" opacity="0.9"/><rect x="40" y="503" width="3" height="2" fill="#000" opacity="0.9"/><rect x="43" y="497" width="3" height="3" fill="#000" opacity="0.9"/><rect x="44" y="498" width="1" height="1" fill="#8a8058"/><rect x="45" y="492" width="3" height="5" fill="#000" opacity="0.9"/><rect x="46" y="493" width="1" height="3" fill="#8a8058"/><rect x="47" y="490" width="3" height="2" fill="#000" opacity="0.9"/><rect x="50" y="489" width="3" height="2" fill="#000" opacity="0.9"/><rect x="52" y="485" width="3" height="4" fill="#000" opacity="0.9"/><rect x="53" y="486" width="1" height="2" fill="#8a8058"/><rect x="54" y="478" width="3" height="7" fill="#000" opacity="0.9"/><rect x="55" y="479" width="1" height="5" fill="#8a8058"/><rect x="56" y="459" width="3" height="11" fill="#000" opacity="0.9"/><rect x="57" y="460" width="1" height="9" fill="#8a8058"/><rect x="59" y="459" width="3" height="2" fill="#000" opacity="0.9"/><rect x="61" y="449" width="3" height="12" fill="#000" opacity="0.9"/><rect x="62" y="450" width="1" height="10" fill="#8a8058"/><rect x="63" y="452" width="3" height="14" fill="#000" opacity="0.9"/><rect x="66" y="459" width="3" height="7" fill="#000" opacity="0.9"/><rect x="67" y="460" width="1" height="5" fill="#8a8058"/><rect x="68" y="459" width="3" height="5" fill="#000" opacity="0.9"/><rect x="70" y="461" width="3" height="3" fill="#000" opacity="0.9"/><rect x="71" y="462" width="1" height="1" fill="#8a8058"/><rect x="72" y="461" width="3" height="3" fill="#000" opacity="0.9"/><rect x="75" y="465" width="3" height="12" fill="#000" opacity="0.9"/><rect x="77" y="470" width="3" height="7" fill="#000" opacity="0.9"/><rect x="78" y="471" width="1" height="5" fill="#8a8058"/><rect x="79" y="469" width="3" height="2" fill="#000" opacity="0.9"/><rect x="82" y="469" width="3" height="4" fill="#000" opacity="0.9"/><rect x="84" y="472" width="3" height="2" fill="#000" opacity="0.9"/><rect x="86" y="472" width="3" height="2" fill="#000" opacity="0.9"/><rect x="89" y="471" width="3" height="2" fill="#000" opacity="0.9"/><rect x="91" y="471" width="3" height="3" fill="#000" opacity="0.9"/><rect x="93" y="476" width="3" height="4" fill="#000" opacity="0.9"/><rect x="95" y="483" width="3" height="3" fill="#000" opacity="0.9"/><rect x="98" y="480" width="3" height="6" fill="#000" opacity="0.9"/><rect x="99" y="481" width="1" height="4" fill="#8a8058"/><rect x="100" y="477" width="3" height="3" fill="#000" opacity="0.9"/><rect x="101" y="478" width="1" height="1" fill="#8a8058"/><rect x="102" y="476" width="3" height="2" fill="#000" opacity="0.9"/><rect x="105" y="473" width="3" height="3" fill="#000" opacity="0.9"/><rect x="106" y="474" width="1" height="1" fill="#8a8058"/><rect x="107" y="472" width="3" height="2" fill="#000" opacity="0.9"/><rect x="109" y="472" width="3" height="8" fill="#000" opacity="0.9"/><rect x="111" y="480" width="3" height="6" fill="#000" opacity="0.9"/><rect x="114" y="480" width="3" height="6" fill="#000" opacity="0.9"/><rect x="115" y="481" width="1" height="4" fill="#8a8058"/><rect x="116" y="480" width="3" height="4" fill="#000" opacity="0.9"/><rect x="118" y="484" width="3" height="5" fill="#000" opacity="0.9"/><rect x="121" y="489" width="3" height="2" fill="#000" opacity="0.9"/><rect x="123" y="491" width="3" height="5" fill="#000" opacity="0.9"/><rect x="125" y="498" width="3" height="4" fill="#000" opacity="0.9"/><rect x="128" y="503" width="3" height="3" fill="#000" opacity="0.9"/><rect x="130" y="503" width="3" height="3" fill="#000" opacity="0.9"/><rect x="131" y="504" width="1" height="1" fill="#8a8058"/><rect x="132" y="503" width="3" height="3" fill="#000" opacity="0.9"/><rect x="134" y="505" width="3" height="2" fill="#000" opacity="0.9"/><rect x="137" y="505" width="3" height="2" fill="#000" opacity="0.9"/><rect x="139" y="502" width="3" height="3" fill="#000" opacity="0.9"/><rect x="140" y="503" width="1" height="1" fill="#8a8058"/><rect x="141" y="496" width="3" height="6" fill="#000" opacity="0.9"/><rect x="142" y="497" width="1" height="4" fill="#8a8058"/><rect x="144" y="496" width="3" height="2" fill="#000" opacity="0.9"/><rect x="146" y="496" width="3" height="2" fill="#000" opacity="0.9"/><rect x="148" y="488" width="3" height="7" fill="#000" opacity="0.9"/><rect x="149" y="489" width="1" height="5" fill="#8a8058"/><rect x="150" y="485" width="3" height="3" fill="#000" opacity="0.9"/><rect x="151" y="486" width="1" height="1" fill="#8a8058"/><rect x="153" y="477" width="3" height="6" fill="#000" opacity="0.9"/><rect x="154" y="478" width="1" height="4" fill="#8a8058"/><rect x="155" y="476" width="3" height="2" fill="#000" opacity="0.9"/><rect x="157" y="476" width="3" height="2" fill="#000" opacity="0.9"/><rect x="160" y="476" width="3" height="2" fill="#000" opacity="0.9"/><rect x="162" y="477" width="3" height="14" fill="#000" opacity="0.9"/><rect x="164" y="493" width="3" height="5" fill="#000" opacity="0.9"/><rect x="166" y="496" width="3" height="2" fill="#000" opacity="0.9"/><rect x="169" y="489" width="3" height="4" fill="#000" opacity="0.9"/><rect x="170" y="490" width="1" height="2" fill="#8a8058"/><rect x="171" y="488" width="3" height="2" fill="#000" opacity="0.9"/><rect x="173" y="487" width="3" height="2" fill="#000" opacity="0.9"/><rect x="176" y="487" width="3" height="4" fill="#000" opacity="0.9"/><rect x="178" y="491" width="3" height="4" fill="#000" opacity="0.9"/><rect x="180" y="498" width="3" height="5" fill="#000" opacity="0.9"/><rect x="183" y="495" width="3" height="2" fill="#000" opacity="0.9"/><rect x="185" y="489" width="3" height="5" fill="#000" opacity="0.9"/><rect x="186" y="490" width="1" height="3" fill="#8a8058"/><rect x="187" y="488" width="3" height="2" fill="#000" opacity="0.9"/><rect x="189" y="489" width="3" height="3" fill="#000" opacity="0.9"/><rect x="192" y="492" width="3" height="4" fill="#000" opacity="0.9"/><rect x="194" y="496" width="3" height="4" fill="#000" opacity="0.9"/><rect x="196" y="499" width="3" height="2" fill="#000" opacity="0.9"/><rect x="199" y="496" width="3" height="4" fill="#000" opacity="0.9"/><rect x="200" y="497" width="1" height="2" fill="#8a8058"/><rect x="201" y="493" width="3" height="3" fill="#000" opacity="0.9"/><rect x="202" y="494" width="1" height="1" fill="#8a8058"/><rect x="203" y="492" width="3" height="2" fill="#000" opacity="0.9"/><rect x="205" y="490" width="3" height="3" fill="#000" opacity="0.9"/><rect x="206" y="491" width="1" height="1" fill="#8a8058"/><rect x="208" y="482" width="3" height="8" fill="#000" opacity="0.9"/><rect x="209" y="483" width="1" height="6" fill="#8a8058"/><rect x="210" y="481" width="3" height="2" fill="#000" opacity="0.9"/><rect x="212" y="483" width="3" height="9" fill="#000" opacity="0.9"/><rect x="215" y="491" width="3" height="2" fill="#000" opacity="0.9"/><rect x="217" y="492" width="3" height="3" fill="#000" opacity="0.9"/><rect x="219" y="494" width="3" height="2" fill="#000" opacity="0.9"/><rect x="222" y="493" width="3" height="2" fill="#000" opacity="0.9"/><rect x="224" y="490" width="3" height="3" fill="#000" opacity="0.9"/><rect x="225" y="491" width="1" height="1" fill="#8a8058"/><rect x="226" y="490" width="3" height="2" fill="#000" opacity="0.9"/><rect x="228" y="488" width="3" height="4" fill="#000" opacity="0.9"/><rect x="229" y="489" width="1" height="2" fill="#8a8058"/><rect x="231" y="487" width="3" height="2" fill="#000" opacity="0.9"/><rect x="233" y="487" width="3" height="2" fill="#000" opacity="0.9"/><rect x="235" y="489" width="3" height="3" fill="#000" opacity="0.9"/><rect x="238" y="491" width="3" height="2" fill="#000" opacity="0.9"/><rect x="240" y="482" width="3" height="6" fill="#000" opacity="0.9"/><rect x="241" y="483" width="1" height="4" fill="#8a8058"/><rect x="242" y="474" width="3" height="6" fill="#000" opacity="0.9"/><rect x="243" y="475" width="1" height="4" fill="#8a8058"/><rect x="244" y="463" width="3" height="11" fill="#000" opacity="0.9"/><rect x="245" y="464" width="1" height="9" fill="#8a8058"/><rect x="247" y="462" width="3" height="2" fill="#000" opacity="0.9"/><rect x="249" y="453" width="3" height="2" fill="#000" opacity="0.9"/><rect x="251" y="458" width="3" height="10" fill="#000" opacity="0.9"/><rect x="254" y="467" width="3" height="2" fill="#000" opacity="0.9"/><rect x="256" y="464" width="3" height="4" fill="#000" opacity="0.9"/><rect x="257" y="465" width="1" height="2" fill="#8a8058"/><rect x="258" y="464" width="3" height="2" fill="#000" opacity="0.9"/><rect x="261" y="460" width="3" height="5" fill="#000" opacity="0.9"/><rect x="262" y="461" width="1" height="3" fill="#8a8058"/><rect x="263" y="460" width="3" height="3" fill="#000" opacity="0.9"/><rect x="265" y="467" width="3" height="8" fill="#000" opacity="0.9"/><rect x="267" y="475" width="3" height="4" fill="#000" opacity="0.9"/><rect x="270" y="479" width="3" height="8" fill="#000" opacity="0.9"/><rect x="272" y="485" width="3" height="2" fill="#000" opacity="0.9"/><rect x="274" y="481" width="3" height="3" fill="#000" opacity="0.9"/><rect x="275" y="482" width="1" height="1" fill="#8a8058"/><rect x="277" y="478" width="3" height="3" fill="#000" opacity="0.9"/><rect x="278" y="479" width="1" height="1" fill="#8a8058"/><rect x="279" y="478" width="3" height="4" fill="#000" opacity="0.9"/><rect x="281" y="482" width="3" height="5" fill="#000" opacity="0.9"/><rect x="283" y="487" width="3" height="2" fill="#000" opacity="0.9"/><rect x="286" y="488" width="3" height="5" fill="#000" opacity="0.9"/><rect x="288" y="495" width="3" height="6" fill="#000" opacity="0.9"/><rect x="290" y="504" width="3" height="5" fill="#000" opacity="0.9"/><rect x="293" y="505" width="3" height="4" fill="#000" opacity="0.9"/><rect x="294" y="506" width="1" height="2" fill="#8a8058"/><rect x="295" y="498" width="3" height="7" fill="#000" opacity="0.9"/><rect x="296" y="499" width="1" height="5" fill="#8a8058"/><rect x="297" y="489" width="3" height="5" fill="#000" opacity="0.9"/><rect x="298" y="490" width="1" height="3" fill="#8a8058"/><rect x="300" y="489" width="3" height="2" fill="#000" opacity="0.9"/><rect x="302" y="491" width="3" height="4" fill="#000" opacity="0.9"/><rect x="304" y="496" width="3" height="4" fill="#000" opacity="0.9"/><rect x="306" y="502" width="3" height="5" fill="#000" opacity="0.9"/><rect x="309" y="506" width="3" height="2" fill="#000" opacity="0.9"/><rect x="311" y="507" width="3" height="5" fill="#000" opacity="0.9"/><rect x="313" y="512" width="3" height="4" fill="#000" opacity="0.9"/><rect x="316" y="514" width="3" height="2" fill="#000" opacity="0.9"/><rect x="318" y="511" width="3" height="2" fill="#000" opacity="0.9"/><rect x="320" y="511" width="3" height="5" fill="#000" opacity="0.9"/><rect x="322" y="517" width="3" height="2" fill="#000" opacity="0.9"/><rect x="325" y="518" width="3" height="2" fill="#000" opacity="0.9"/><rect x="327" y="515" width="3" height="4" fill="#000" opacity="0.9"/><rect x="328" y="516" width="1" height="2" fill="#8a8058"/><rect x="329" y="500" width="3" height="12" fill="#000" opacity="0.9"/><rect x="330" y="501" width="1" height="10" fill="#8a8058"/><rect x="332" y="499" width="3" height="2" fill="#000" opacity="0.9"/><rect x="334" y="497" width="3" height="2" fill="#000" opacity="0.9"/><rect x="336" y="490" width="3" height="8" fill="#000" opacity="0.9"/><rect x="337" y="491" width="1" height="6" fill="#8a8058"/><rect x="339" y="490" width="3" height="2" fill="#000" opacity="0.9"/><rect x="341" y="489" width="3" height="2" fill="#000" opacity="0.9"/><rect x="343" y="488" width="3" height="2" fill="#000" opacity="0.9"/><rect x="345" y="486" width="3" height="2" fill="#000" opacity="0.9"/><rect x="348" y="480" width="3" height="6" fill="#000" opacity="0.9"/><rect x="349" y="481" width="1" height="4" fill="#8a8058"/><rect x="350" y="470" width="3" height="8" fill="#000" opacity="0.9"/><rect x="351" y="471" width="1" height="6" fill="#8a8058"/><rect x="352" y="467" width="3" height="3" fill="#000" opacity="0.9"/><rect x="353" y="468" width="1" height="1" fill="#8a8058"/><rect x="355" y="467" width="3" height="2" fill="#000" opacity="0.9"/><rect x="357" y="468" width="3" height="6" fill="#000" opacity="0.9"/><rect x="359" y="474" width="3" height="3" fill="#000" opacity="0.9"/><rect x="361" y="478" width="3" height="4" fill="#000" opacity="0.9"/><rect x="364" y="482" width="3" height="6" fill="#000" opacity="0.9"/><rect x="366" y="483" width="3" height="5" fill="#000" opacity="0.9"/><rect x="367" y="484" width="1" height="3" fill="#8a8058"/><rect x="368" y="480" width="3" height="3" fill="#000" opacity="0.9"/><rect x="369" y="481" width="1" height="1" fill="#8a8058"/><rect x="371" y="463" width="3" height="11" fill="#000" opacity="0.9"/><rect x="372" y="464" width="1" height="9" fill="#8a8058"/><rect x="373" y="454" width="3" height="9" fill="#000" opacity="0.9"/><rect x="374" y="455" width="1" height="7" fill="#8a8058"/><rect x="375" y="454" width="3" height="2" fill="#000" opacity="0.9"/><rect x="378" y="451" width="3" height="4" fill="#000" opacity="0.9"/><rect x="379" y="452" width="1" height="2" fill="#8a8058"/><rect x="380" y="451" width="3" height="2" fill="#000" opacity="0.9"/><rect x="382" y="453" width="3" height="3" fill="#000" opacity="0.9"/><rect x="384" y="452" width="3" height="4" fill="#000" opacity="0.9"/><rect x="385" y="453" width="1" height="2" fill="#8a8058"/><rect x="387" y="451" width="3" height="2" fill="#000" opacity="0.9"/><rect x="389" y="450" width="3" height="2" fill="#000" opacity="0.9"/><rect x="391" y="452" width="3" height="8" fill="#000" opacity="0.9"/><rect x="394" y="458" width="3" height="2" fill="#000" opacity="0.9"/><rect x="396" y="458" width="3" height="3" fill="#000" opacity="0.9"/><rect x="398" y="460" width="3" height="2" fill="#000" opacity="0.9"/><rect x="400" y="461" width="3" height="2" fill="#000" opacity="0.9"/><rect x="403" y="463" width="3" height="4" fill="#000" opacity="0.9"/><rect x="405" y="467" width="3" height="2" fill="#000" opacity="0.9"/><rect x="407" y="467" width="3" height="2" fill="#000" opacity="0.9"/><rect x="410" y="463" width="3" height="4" fill="#000" opacity="0.9"/><rect x="411" y="464" width="1" height="2" fill="#8a8058"/><rect x="412" y="458" width="3" height="4" fill="#000" opacity="0.9"/><rect x="413" y="459" width="1" height="2" fill="#8a8058"/><rect x="414" y="456" width="3" height="2" fill="#000" opacity="0.9"/><rect x="417" y="456" width="3" height="3" fill="#000" opacity="0.9"/><rect x="419" y="459" width="3" height="4" fill="#000" opacity="0.9"/><rect x="421" y="464" width="3" height="2" fill="#000" opacity="0.9"/><rect x="423" y="464" width="3" height="2" fill="#000" opacity="0.9"/><rect x="426" y="463" width="3" height="2" fill="#000" opacity="0.9"/><rect x="428" y="463" width="3" height="2" fill="#000" opacity="0.9"/><rect x="430" y="463" width="3" height="2" fill="#000" opacity="0.9"/><rect x="433" y="463" width="3" height="3" fill="#000" opacity="0.9"/><rect x="435" y="467" width="3" height="10" fill="#000" opacity="0.9"/><rect x="437" y="481" width="3" height="2" fill="#000" opacity="0.9"/><rect x="439" y="471" width="3" height="8" fill="#000" opacity="0.9"/><rect x="440" y="472" width="1" height="6" fill="#8a8058"/><rect x="442" y="459" width="3" height="6" fill="#000" opacity="0.9"/><rect x="443" y="460" width="1" height="4" fill="#8a8058"/><rect x="444" y="455" width="3" height="4" fill="#000" opacity="0.9"/><rect x="445" y="456" width="1" height="2" fill="#8a8058"/><rect x="446" y="455" width="3" height="2" fill="#000" opacity="0.9"/><rect x="449" y="456" width="3" height="5" fill="#000" opacity="0.9"/><rect x="451" y="458" width="3" height="3" fill="#000" opacity="0.9"/><rect x="452" y="459" width="1" height="1" fill="#8a8058"/><rect x="453" y="455" width="3" height="3" fill="#000" opacity="0.9"/><rect x="454" y="456" width="1" height="1" fill="#8a8058"/><rect x="456" y="445" width="3" height="7" fill="#000" opacity="0.9"/><rect x="457" y="446" width="1" height="5" fill="#8a8058"/><rect x="458" y="444" width="3" height="2" fill="#000" opacity="0.9"/><rect x="460" y="445" width="3" height="3" fill="#000" opacity="0.9"/><rect x="462" y="444" width="3" height="4" fill="#000" opacity="0.9"/><rect x="463" y="445" width="1" height="2" fill="#8a8058"/><rect x="465" y="442" width="3" height="2" fill="#000" opacity="0.9"/><rect x="467" y="443" width="3" height="3" fill="#000" opacity="0.9"/><rect x="469" y="446" width="3" height="2" fill="#000" opacity="0.9"/><rect x="472" y="448" width="3" height="2" fill="#000" opacity="0.9"/><rect x="474" y="448" width="3" height="2" fill="#000" opacity="0.9"/><rect x="476" y="446" width="3" height="2" fill="#000" opacity="0.9"/><rect x="478" y="446" width="3" height="2" fill="#000" opacity="0.9"/><rect x="481" y="447" width="3" height="2" fill="#000" opacity="0.9"/><rect x="483" y="446" width="3" height="2" fill="#000" opacity="0.9"/><rect x="485" y="443" width="3" height="3" fill="#000" opacity="0.9"/><rect x="486" y="444" width="1" height="1" fill="#8a8058"/><rect x="488" y="424" width="3" height="9" fill="#000" opacity="0.9"/><rect x="489" y="425" width="1" height="7" fill="#8a8058"/><rect x="490" y="419" width="3" height="5" fill="#000" opacity="0.9"/><rect x="491" y="420" width="1" height="3" fill="#8a8058"/><rect x="492" y="417" width="3" height="2" fill="#000" opacity="0.9"/><rect x="495" y="414" width="3" height="3" fill="#000" opacity="0.9"/><rect x="496" y="415" width="1" height="1" fill="#8a8058"/><rect x="497" y="394" width="3" height="11" fill="#000" opacity="0.9"/><rect x="498" y="395" width="1" height="9" fill="#8a8058"/><rect x="499" y="384" width="3" height="3" fill="#000" opacity="0.9"/><rect x="500" y="385" width="1" height="1" fill="#8a8058"/><rect x="501" y="384" width="3" height="3" fill="#000" opacity="0.9"/><rect x="504" y="387" width="3" height="5" fill="#000" opacity="0.9"/><rect x="506" y="390" width="3" height="2" fill="#000" opacity="0.9"/><rect x="508" y="385" width="3" height="5" fill="#000" opacity="0.9"/><rect x="509" y="386" width="1" height="3" fill="#8a8058"/><rect x="511" y="378" width="3" height="7" fill="#000" opacity="0.9"/><rect x="512" y="379" width="1" height="5" fill="#8a8058"/><rect x="513" y="378" width="3" height="10" fill="#000" opacity="0.9"/><rect x="515" y="387" width="3" height="2" fill="#000" opacity="0.9"/><rect x="517" y="388" width="3" height="2" fill="#000" opacity="0.9"/><rect x="520" y="389" width="3" height="2" fill="#000" opacity="0.9"/><rect x="522" y="390" width="3" height="2" fill="#000" opacity="0.9"/><rect x="524" y="391" width="3" height="2" fill="#000" opacity="0.9"/><rect x="527" y="382" width="3" height="7" fill="#000" opacity="0.9"/><rect x="528" y="383" width="1" height="5" fill="#8a8058"/><rect x="529" y="378" width="3" height="4" fill="#000" opacity="0.9"/><rect x="530" y="379" width="1" height="2" fill="#8a8058"/><rect x="531" y="373" width="3" height="4" fill="#000" opacity="0.9"/><rect x="532" y="374" width="1" height="2" fill="#8a8058"/><rect x="534" y="373" width="3" height="2" fill="#000" opacity="0.9"/><rect x="536" y="368" width="3" height="2" fill="#000" opacity="0.9"/><rect x="538" y="368" width="3" height="2" fill="#000" opacity="0.9"/><rect x="540" y="356" width="3" height="8" fill="#000" opacity="0.9"/><rect x="541" y="357" width="1" height="6" fill="#8a8058"/><rect x="543" y="352" width="3" height="4" fill="#000" opacity="0.9"/><rect x="544" y="353" width="1" height="2" fill="#8a8058"/><rect x="545" y="352" width="3" height="2" fill="#000" opacity="0.9"/><rect x="547" y="353" width="3" height="2" fill="#000" opacity="0.9"/><rect x="550" y="346" width="3" height="7" fill="#000" opacity="0.9"/><rect x="551" y="347" width="1" height="5" fill="#8a8058"/><rect x="552" y="336" width="3" height="9" fill="#000" opacity="0.9"/><rect x="553" y="337" width="1" height="7" fill="#8a8058"/><rect x="554" y="330" width="3" height="2" fill="#000" opacity="0.9"/><rect x="556" y="330" width="3" height="2" fill="#000" opacity="0.9"/><rect x="559" y="328" width="3" height="3" fill="#000" opacity="0.9"/><rect x="560" y="329" width="1" height="1" fill="#8a8058"/><rect x="561" y="321" width="3" height="7" fill="#000" opacity="0.9"/><rect x="562" y="322" width="1" height="5" fill="#8a8058"/><rect x="563" y="313" width="3" height="4" fill="#000" opacity="0.9"/><rect x="564" y="314" width="1" height="2" fill="#8a8058"/><rect x="566" y="312" width="3" height="2" fill="#000" opacity="0.9"/><rect x="568" y="315" width="3" height="9" fill="#000" opacity="0.9"/><rect x="570" y="329" width="3" height="5" fill="#000" opacity="0.9"/><rect x="573" y="327" width="3" height="7" fill="#000" opacity="0.9"/><rect x="574" y="328" width="1" height="5" fill="#8a8058"/><rect x="575" y="327" width="3" height="6" fill="#000" opacity="0.9"/><rect x="577" y="329" width="3" height="4" fill="#000" opacity="0.9"/><rect x="578" y="330" width="1" height="2" fill="#8a8058"/><rect x="579" y="328" width="3" height="2" fill="#000" opacity="0.9"/><rect x="582" y="331" width="3" height="2" fill="#000" opacity="0.9"/><rect x="584" y="332" width="3" height="2" fill="#000" opacity="0.9"/><rect x="586" y="331" width="3" height="3" fill="#000" opacity="0.9"/><rect x="587" y="332" width="1" height="1" fill="#8a8058"/><rect x="589" y="323" width="3" height="8" fill="#000" opacity="0.9"/><rect x="590" y="324" width="1" height="6" fill="#8a8058"/><rect x="591" y="318" width="3" height="5" fill="#000" opacity="0.9"/><rect x="592" y="319" width="1" height="3" fill="#8a8058"/><rect x="593" y="309" width="3" height="9" fill="#000" opacity="0.9"/><rect x="594" y="310" width="1" height="7" fill="#8a8058"/><rect x="595" y="299" width="3" height="10" fill="#000" opacity="0.9"/><rect x="596" y="300" width="1" height="8" fill="#8a8058"/><rect x="598" y="287" width="3" height="11" fill="#000" opacity="0.9"/><rect x="599" y="288" width="1" height="9" fill="#8a8058"/><rect x="600" y="275" width="3" height="11" fill="#000" opacity="0.9"/><rect x="601" y="276" width="1" height="9" fill="#8a8058"/><rect x="602" y="275" width="3" height="9" fill="#000" opacity="0.9"/><rect x="605" y="284" width="3" height="3" fill="#000" opacity="0.9"/><rect x="607" y="283" width="3" height="4" fill="#000" opacity="0.9"/><rect x="608" y="284" width="1" height="2" fill="#8a8058"/><rect x="609" y="272" width="3" height="11" fill="#000" opacity="0.9"/><rect x="610" y="273" width="1" height="9" fill="#8a8058"/><rect x="612" y="265" width="3" height="2" fill="#000" opacity="0.9"/></g>
<rect x="9.2" y="480.1" width="27.5" height="7.6" fill="#d9f0ea" stroke="#b5d6d3" stroke-width="0.6"/>
<path d="M20 487.5 L26 487.5 L23 492.3Z" fill="#d9f0ea"/>
<text x="23" y="486.4" font-size="7.6" text-anchor="middle" textLength="24.9" lengthAdjust="spacingAndGlyphs" fill="#111" stroke="#111" stroke-width="0.32">1788.80</text>
<rect x="25.9" y="520.4" width="27.5" height="7.6" fill="#d9f0ea" stroke="#b5d6d3" stroke-width="0.6"/>
<path d="M36.6 520.6 L42.6 520.6 L39.6 515.8Z" fill="#d9f0ea"/>
<text x="39.6" y="526.7" font-size="7.6" text-anchor="middle" textLength="24.9" lengthAdjust="spacingAndGlyphs" fill="#111" stroke="#111" stroke-width="0.32">1671.70</text>
<rect x="45.2" y="425" width="27.5" height="7.6" fill="#d9f0ea" stroke="#b5d6d3" stroke-width="0.6"/>
<path d="M56 432.4 L62 432.4 L59 437.2Z" fill="#d9f0ea"/>
<text x="59" y="431.3" font-size="7.6" text-anchor="middle" textLength="24.9" lengthAdjust="spacingAndGlyphs" fill="#111" stroke="#111" stroke-width="0.32">2089.20</text>
<rect x="77.5" y="448" width="27.5" height="7.6" fill="#d9f0ea" stroke="#b5d6d3" stroke-width="0.6"/>
<path d="M88.2 455.4 L94.2 455.4 L91.2 460.2Z" fill="#d9f0ea"/>
<text x="91.2" y="454.3" font-size="7.6" text-anchor="middle" textLength="24.9" lengthAdjust="spacingAndGlyphs" fill="#111" stroke="#111" stroke-width="0.32">1966.10</text>
<rect x="62.5" y="486.4" width="27.5" height="7.6" fill="#d9f0ea" stroke="#b5d6d3" stroke-width="0.6"/>
<path d="M73.3 486.6 L79.3 486.6 L76.3 481.8Z" fill="#d9f0ea"/>
<text x="76.3" y="492.7" font-size="7.6" text-anchor="middle" textLength="24.9" lengthAdjust="spacingAndGlyphs" fill="#111" stroke="#111" stroke-width="0.32">1851.00</text>
<rect x="83.8" y="502.2" width="27.5" height="7.6" fill="#d9f0ea" stroke="#b5d6d3" stroke-width="0.6"/>
<path d="M94.5 502.4 L100.5 502.4 L97.5 497.6Z" fill="#d9f0ea"/>
<text x="97.5" y="508.5" font-size="7.6" text-anchor="middle" textLength="24.9" lengthAdjust="spacingAndGlyphs" fill="#111" stroke="#111" stroke-width="0.32">1767.20</text>
<rect x="116.2" y="519.8" width="27.5" height="7.6" fill="#d9f0ea" stroke="#b5d6d3" stroke-width="0.6"/>
<path d="M127 520 L133 520 L130 515.2Z" fill="#d9f0ea"/>
<text x="130" y="526.1" font-size="7.6" text-anchor="middle" textLength="24.9" lengthAdjust="spacingAndGlyphs" fill="#111" stroke="#111" stroke-width="0.32">1673.30</text>
<rect x="143.6" y="456.8" width="27.5" height="7.6" fill="#d9f0ea" stroke="#b5d6d3" stroke-width="0.6"/>
<path d="M154.3 464.2 L160.3 464.2 L157.3 469Z" fill="#d9f0ea"/>
<text x="157.3" y="463.1" font-size="7.6" text-anchor="middle" textLength="24.9" lengthAdjust="spacingAndGlyphs" fill="#111" stroke="#111" stroke-width="0.32">1919.20</text>
<rect x="166.8" y="519.3" width="27.5" height="7.6" fill="#d9f0ea" stroke="#b5d6d3" stroke-width="0.6"/>
<path d="M177.6 519.5 L183.6 519.5 L180.6 514.7Z" fill="#d9f0ea"/>
<text x="180.6" y="525.6" font-size="7.6" text-anchor="middle" textLength="24.9" lengthAdjust="spacingAndGlyphs" fill="#111" stroke="#111" stroke-width="0.32">1675.90</text>
<rect x="173.8" y="472.3" width="27.5" height="7.6" fill="#d9f0ea" stroke="#b5d6d3" stroke-width="0.6"/>
<path d="M184.5 479.7 L190.5 479.7 L187.5 484.5Z" fill="#d9f0ea"/>
<text x="187.5" y="478.6" font-size="7.6" text-anchor="middle" textLength="24.9" lengthAdjust="spacingAndGlyphs" fill="#111" stroke="#111" stroke-width="0.32">1836.90</text>
<rect x="208.2" y="504.8" width="27.5" height="7.6" fill="#d9f0ea" stroke="#b5d6d3" stroke-width="0.6"/>
<path d="M219 505 L225 505 L222 500.2Z" fill="#d9f0ea"/>
<text x="222" y="511.1" font-size="7.6" text-anchor="middle" textLength="24.9" lengthAdjust="spacingAndGlyphs" fill="#111" stroke="#111" stroke-width="0.32">1753.10</text>
<rect x="235.6" y="426.9" width="27.5" height="7.6" fill="#d9f0ea" stroke="#b5d6d3" stroke-width="0.6"/>
<path d="M246.3 434.3 L252.3 434.3 L249.3 439.1Z" fill="#d9f0ea"/>
<text x="249.3" y="433.2" font-size="7.6" text-anchor="middle" textLength="24.9" lengthAdjust="spacingAndGlyphs" fill="#111" stroke="#111" stroke-width="0.32">2078.80</text>
<rect x="259.2" y="498.8" width="27.5" height="7.6" fill="#d9f0ea" stroke="#b5d6d3" stroke-width="0.6"/>
<path d="M270 499 L276 499 L273 494.2Z" fill="#d9f0ea"/>
<text x="273" y="505.1" font-size="7.6" text-anchor="middle" textLength="24.9" lengthAdjust="spacingAndGlyphs" fill="#111" stroke="#111" stroke-width="0.32">1785.00</text>
<rect x="267.2" y="463.7" width="27.5" height="7.6" fill="#d9f0ea" stroke="#b5d6d3" stroke-width="0.6"/>
<path d="M278 471.1 L284 471.1 L281 475.9Z" fill="#d9f0ea"/>
<text x="281" y="470" font-size="7.6" text-anchor="middle" textLength="24.9" lengthAdjust="spacingAndGlyphs" fill="#111" stroke="#111" stroke-width="0.32">1882.50</text>
<rect x="278.9" y="518.8" width="27.5" height="7.6" fill="#d9f0ea" stroke="#b5d6d3" stroke-width="0.6"/>
<path d="M289.7 519 L295.7 519 L292.7 514.2Z" fill="#d9f0ea"/>
<text x="292.7" y="525.1" font-size="7.6" text-anchor="middle" textLength="24.9" lengthAdjust="spacingAndGlyphs" fill="#111" stroke="#111" stroke-width="0.32">1678.40</text>
<rect x="285.9" y="474.6" width="27.5" height="7.6" fill="#d9f0ea" stroke="#b5d6d3" stroke-width="0.6"/>
<path d="M296.7 482 L302.7 482 L299.7 486.8Z" fill="#d9f0ea"/>
<text x="299.7" y="480.9" font-size="7.6" text-anchor="middle" textLength="24.9" lengthAdjust="spacingAndGlyphs" fill="#111" stroke="#111" stroke-width="0.32">1824.60</text>
<rect x="314.2" y="530.1" width="27.5" height="7.6" fill="#d9f0ea" stroke="#b5d6d3" stroke-width="0.6"/>
<path d="M325 530.3 L331 530.3 L328 525.5Z" fill="#d9f0ea"/>
<text x="328" y="536.4" font-size="7.6" text-anchor="middle" textLength="24.9" lengthAdjust="spacingAndGlyphs" fill="#111" stroke="#111" stroke-width="0.32">1618.30</text>
<rect x="344.6" y="446.3" width="27.5" height="7.6" fill="#d9f0ea" stroke="#b5d6d3" stroke-width="0.6"/>
<path d="M355.3 453.7 L361.3 453.7 L358.3 458.5Z" fill="#d9f0ea"/>
<text x="358.3" y="452.6" font-size="7.6" text-anchor="middle" textLength="24.9" lengthAdjust="spacingAndGlyphs" fill="#111" stroke="#111" stroke-width="0.32">1975.20</text>
<rect x="352.6" y="494" width="27.5" height="7.6" fill="#d9f0ea" stroke="#b5d6d3" stroke-width="0.6"/>
<path d="M363.4 494.2 L369.4 494.2 L366.4 489.4Z" fill="#d9f0ea"/>
<text x="366.4" y="500.3" font-size="7.6" text-anchor="middle" textLength="24.9" lengthAdjust="spacingAndGlyphs" fill="#111" stroke="#111" stroke-width="0.32">1810.80</text>
<rect x="372.8" y="425.7" width="27.5" height="7.6" fill="#d9f0ea" stroke="#b5d6d3" stroke-width="0.6"/>
<path d="M383.5 433.1 L389.5 433.1 L386.5 437.9Z" fill="#d9f0ea"/>
<text x="386.5" y="432" font-size="7.6" text-anchor="middle" textLength="24.9" lengthAdjust="spacingAndGlyphs" fill="#111" stroke="#111" stroke-width="0.32">2085.40</text>
<rect x="391.2" y="477.1" width="27.5" height="7.6" fill="#d9f0ea" stroke="#b5d6d3" stroke-width="0.6"/>
<path d="M402 477.3 L408 477.3 L405 472.5Z" fill="#d9f0ea"/>
<text x="405" y="483.4" font-size="7.6" text-anchor="middle" textLength="24.9" lengthAdjust="spacingAndGlyphs" fill="#111" stroke="#111" stroke-width="0.32">1900.60</text>
<rect x="402.9" y="439.6" width="27.5" height="7.6" fill="#d9f0ea" stroke="#b5d6d3" stroke-width="0.6"/>
<path d="M413.7 447 L419.7 447 L416.7 451.8Z" fill="#d9f0ea"/>
<text x="416.7" y="445.9" font-size="7.6" text-anchor="middle" textLength="24.9" lengthAdjust="spacingAndGlyphs" fill="#111" stroke="#111" stroke-width="0.32">2010.90</text>
<rect x="423.2" y="491.6" width="27.5" height="7.6" fill="#d9f0ea" stroke="#b5d6d3" stroke-width="0.6"/>
<path d="M434 491.8 L440 491.8 L437 487Z" fill="#d9f0ea"/>
<text x="437" y="497.9" font-size="7.6" text-anchor="middle" textLength="24.9" lengthAdjust="spacingAndGlyphs" fill="#111" stroke="#111" stroke-width="0.32">1823.50</text>
<rect x="445.1" y="413.1" width="27.5" height="7.6" fill="#d9f0ea" stroke="#b5d6d3" stroke-width="0.6"/>
<path d="M455.8 420.5 L461.8 420.5 L458.8 425.3Z" fill="#d9f0ea"/>
<text x="458.8" y="419.4" font-size="7.6" text-anchor="middle" textLength="24.9" lengthAdjust="spacingAndGlyphs" fill="#111" stroke="#111" stroke-width="0.32">2152.30</text>
<rect x="499.8" y="356.5" width="27.5" height="7.6" fill="#d9f0ea" stroke="#b5d6d3" stroke-width="0.6"/>
<path d="M510.5 363.9 L516.5 363.9 L513.5 368.7Z" fill="#d9f0ea"/>
<text x="513.5" y="362.8" font-size="7.6" text-anchor="middle" textLength="24.9" lengthAdjust="spacingAndGlyphs" fill="#111" stroke="#111" stroke-width="0.32">2454.20</text>
<rect x="505" y="401.5" width="27.5" height="7.6" fill="#d9f0ea" stroke="#b5d6d3" stroke-width="0.6"/>
<path d="M515.7 401.7 L521.7 401.7 L518.7 396.9Z" fill="#d9f0ea"/>
<text x="518.7" y="407.8" font-size="7.6" text-anchor="middle" textLength="24.9" lengthAdjust="spacingAndGlyphs" fill="#111" stroke="#111" stroke-width="0.32">2304.20</text>
<rect x="553.2" y="291.4" width="27.5" height="7.6" fill="#d9f0ea" stroke="#b5d6d3" stroke-width="0.6"/>
<path d="M564 298.8 L570 298.8 L567 303.6Z" fill="#d9f0ea"/>
<text x="567" y="297.7" font-size="7.6" text-anchor="middle" textLength="24.9" lengthAdjust="spacingAndGlyphs" fill="#111" stroke="#111" stroke-width="0.32">2801.80</text>
<rect x="558" y="357" width="27.5" height="7.6" fill="#d9f0ea" stroke="#b5d6d3" stroke-width="0.6"/>
<path d="M568.7 357.2 L574.7 357.2 L571.7 352.4Z" fill="#d9f0ea"/>
<text x="571.7" y="363.3" font-size="7.6" text-anchor="middle" textLength="24.9" lengthAdjust="spacingAndGlyphs" fill="#111" stroke="#111" stroke-width="0.32">2541.50</text>
<rect x="596.5" y="251" width="27.5" height="7.6" fill="#d9f0ea" stroke="#b5d6d3" stroke-width="0.6"/>
<path d="M607.3 258.4 L613.3 258.4 L610.3 263.2Z" fill="#d9f0ea"/>
<text x="610.3" y="257.3" font-size="7.6" text-anchor="middle" textLength="24.9" lengthAdjust="spacingAndGlyphs" fill="#111" stroke="#111" stroke-width="0.32">3017.10</text>
<g filter="url(#sh)">
<path d="M479.7 299.9 L542.4 343.3 L484.1 296.1Z" fill="#fff" stroke="#888" stroke-width="0.8"/>
<rect x="355.9" y="281.7" width="128.4" height="18.5" fill="#fff" stroke="#999" stroke-width="0.8"/>
</g>
<path d="M479.7 299.9 L542.4 343.3 L484.1 296.1Z" fill="#fff"/>
<rect x="356.4" y="282.2" width="127.4" height="17.5" fill="#fff"/>
<text x="358.2" y="295.2" font-size="12.3" font-weight="bold" textLength="119.8" lengthAdjust="spacingAndGlyphs" fill="#000">A GIANT HANDLE??</text>
<line x1="56.8" x2="584" y1="438.5" y2="438.5" stroke="#0a0aff" stroke-width="5.9"/>
<path d="M55 482.4 C57 483.3 63 485.9 67 487.7 C71 489.4 75 491.2 79 492.9 C83 494.6 87 496.3 91 498 C95 499.7 99 501.3 103 502.9 C107 504.5 111 506.1 115 507.7 C119 509.2 123 510.7 127 512.2 C131 513.7 135 515.1 139 516.5 C143 517.9 147 519.2 151 520.5 C155 521.8 159 523 163 524.2 C167 525.4 171 526.5 175 527.5 C179 528.5 183 529.5 187 530.4 C191 531.3 195 532.1 199 532.9 C203 533.7 207 534.4 211 535 C215 535.6 219 536.2 223 536.7 C227 537.2 231 537.6 235 537.9 C239 538.2 243 538.4 247 538.6 C251 538.8 255 538.9 259 538.9 C263 538.9 267 538.9 271 538.7 C275 538.6 279 538.3 283 538 C287 537.7 291 537.4 295 536.9 C299 536.4 303 535.8 307 535.2 C311 534.6 315 533.9 319 533.1 C323 532.3 327 531.4 331 530.5 C335 529.6 339 528.6 343 527.5 C347 526.4 351 525.2 355 524 C359 522.8 363 521.5 367 520.1 C371 518.7 375 517.2 379 515.7 C383 514.2 387 512.6 391 511 C395 509.4 399 507.6 403 505.8 C407 504 411 502.3 415 500.4 C419 498.5 423 496.6 427 494.6 C431 492.6 435 490.6 439 488.5 C443 486.4 447 484.3 451 482.1 C455 479.9 459 477.7 463 475.5 C467 473.3 471 471.1 475 468.8 C479 466.5 484.1 463.5 487 461.8 C489.9 460.1 491.6 459.1 492.5 458.6" fill="none" stroke="#0a0aff" stroke-width="4.3"/>
<line x1="496" x2="572.5" y1="369.2" y2="369.2" stroke="#0a0aff" stroke-width="3" stroke-linecap="round"/>
<line x1="503" x2="579" y1="398.4" y2="398.4" stroke="#0a0aff" stroke-width="2" stroke-linecap="round"/>
<line x1="560.5" x2="683.3" y1="303.9" y2="303.9" stroke="#0a0aff" stroke-width="4.8" stroke-linecap="round"/>
<line x1="557" x2="623.8" y1="335.9" y2="335.9" stroke="#0a0aff" stroke-width="2" stroke-linecap="round"/>
<line x1="563" x2="604.3" y1="350.2" y2="350.2" stroke="#0a0aff" stroke-width="3" stroke-linecap="round"/>
<line x1="579.3" x2="699.5" y1="268.8" y2="268.8" stroke="#ff9412" stroke-width="5.4" stroke-linecap="round"/>
<rect x="708.8" y="258.2" width="45.4" height="15" rx="1.5" fill="none" stroke="#ff9412" stroke-width="3.6"/>
<line x1="430.3" y1="452.5" x2="568.4" y2="282.5" stroke="#0a0aff" stroke-width="2.4" stroke-dasharray="3 2.6"/>
<line x1="480.3" y1="455" x2="612" y2="293" stroke="#0a0aff" stroke-width="2.4" stroke-dasharray="3 2.6"/>
<line x1="592.3" y1="274" x2="610.5" y2="249.6" stroke="#45a81c" stroke-width="3.4" stroke-dasharray="2.8 1.9"/>
<path d="M619.8 239.8 L607.3 244.6 L616.8 251.9Z" fill="#45a81c"/>
<g filter="url(#sh)">
<path d="M538.5 475.3 L495.2 418.5 L543.9 472.6Z" fill="#fff" stroke="#888" stroke-width="0.8"/>
<rect x="538.3" y="472.4" width="180.7" height="48.2" fill="#fff" stroke="#999" stroke-width="0.8"/>
</g>
<path d="M538.5 475.3 L495.2 418.5 L543.9 472.6Z" fill="#fff"/>
<rect x="538.8" y="472.9" width="179.7" height="47.2" fill="#fff"/>
<text x="541.2" y="485.4" font-size="12.17" font-weight="bold" fill="#000">Are GDX, GOAU, SGDM, and</text>
<text x="541.2" y="500" font-size="12.17" font-weight="bold" fill="#000">associated miners at the</text>
<text x="541.2" y="514.6" font-size="12.17" font-weight="bold" fill="#000">equivalent point of here?</text>
<g filter="url(#sh)"><rect x="226.5" y="503" width="39" height="19.4" fill="#fff" stroke="#999" stroke-width="0.8"/></g>
<text x="229.3" y="516.2" font-size="12.2" font-weight="bold" fill="#000">Cup</text>
<g><rect x="13.2" y="587" width="2.3" height="107.6" fill="#c62f5a" stroke="#a3194a" stroke-width="0.6"/><rect x="15.4" y="619" width="2.3" height="75.6" fill="#4c9a3c" stroke="#2c7a2e" stroke-width="0.6"/><rect x="17.7" y="652.8" width="2.3" height="41.8" fill="#c62f5a" stroke="#a3194a" stroke-width="0.6"/><rect x="20" y="656.2" width="2.3" height="38.4" fill="#4c9a3c" stroke="#2c7a2e" stroke-width="0.6"/><rect x="22.3" y="639.5" width="2.3" height="55.1" fill="#c62f5a" stroke="#a3194a" stroke-width="0.6"/><rect x="24.6" y="640.3" width="2.3" height="54.3" fill="#4c9a3c" stroke="#2c7a2e" stroke-width="0.6"/><rect x="26.9" y="647.3" width="2.3" height="47.3" fill="#c62f5a" stroke="#a3194a" stroke-width="0.6"/><rect x="29.2" y="639.5" width="2.3" height="55.1" fill="#4c9a3c" stroke="#2c7a2e" stroke-width="0.6"/><rect x="31.5" y="638.7" width="2.3" height="55.9" fill="#4c9a3c" stroke="#2c7a2e" stroke-width="0.6"/><rect x="33.8" y="636.2" width="2.3" height="58.4" fill="#c62f5a" stroke="#a3194a" stroke-width="0.6"/><rect x="36.1" y="652.8" width="2.3" height="41.8" fill="#4c9a3c" stroke="#2c7a2e" stroke-width="0.6"/><rect x="38.4" y="637.8" width="2.3" height="56.8" fill="#c62f5a" stroke="#a3194a" stroke-width="0.6"/><rect x="40.7" y="647" width="2.3" height="47.6" fill="#4c9a3c" stroke="#2c7a2e" stroke-width="0.6"/><rect x="43" y="649.5" width="2.3" height="45.1" fill="#4c9a3c" stroke="#2c7a2e" stroke-width="0.6"/><rect x="45.3" y="640.3" width="2.3" height="54.3" fill="#4c9a3c" stroke="#2c7a2e" stroke-width="0.6"/><rect x="47.6" y="652" width="2.3" height="42.6" fill="#4c9a3c" stroke="#2c7a2e" stroke-width="0.6"/><rect x="49.9" y="634.2" width="2.3" height="60.4" fill="#4c9a3c" stroke="#2c7a2e" stroke-width="0.6"/><rect x="52.1" y="639.5" width="2.3" height="55.1" fill="#4c9a3c" stroke="#2c7a2e" stroke-width="0.6"/><rect x="54.4" y="611.2" width="2.3" height="83.4" fill="#4c9a3c" stroke="#2c7a2e" stroke-width="0.6"/><rect x="56.7" y="607" width="2.3" height="87.6" fill="#4c9a3c" stroke="#2c7a2e" stroke-width="0.6"/><rect x="59" y="611.2" width="2.3" height="83.4" fill="#4c9a3c" stroke="#2c7a2e" stroke-width="0.6"/><rect x="61.3" y="592.3" width="2.3" height="102.3" fill="#c62f5a" stroke="#a3194a" stroke-width="0.6"/><rect x="63.6" y="593.7" width="2.3" height="100.9" fill="#c62f5a" stroke="#a3194a" stroke-width="0.6"/><rect x="65.9" y="601.5" width="2.3" height="93.1" fill="#4c9a3c" stroke="#2c7a2e" stroke-width="0.6"/><rect x="68.2" y="613.2" width="2.3" height="81.4" fill="#c62f5a" stroke="#a3194a" stroke-width="0.6"/><rect x="70.5" y="633.3" width="2.3" height="61.3" fill="#4c9a3c" stroke="#2c7a2e" stroke-width="0.6"/><rect x="72.8" y="631.2" width="2.3" height="63.4" fill="#4c9a3c" stroke="#2c7a2e" stroke-width="0.6"/><rect x="75.1" y="604.5" width="2.3" height="90.1" fill="#c62f5a" stroke="#a3194a" stroke-width="0.6"/><rect x="77.4" y="629.5" width="2.3" height="65.1" fill="#4c9a3c" stroke="#2c7a2e" stroke-width="0.6"/><rect x="79.7" y="640.3" width="2.3" height="54.3" fill="#4c9a3c" stroke="#2c7a2e" stroke-width="0.6"/><rect x="82" y="642" width="2.3" height="52.6" fill="#c62f5a" stroke="#a3194a" stroke-width="0.6"/><rect x="84.3" y="645.3" width="2.3" height="49.3" fill="#c62f5a" stroke="#a3194a" stroke-width="0.6"/><rect x="86.6" y="637.8" width="2.3" height="56.8" fill="#c62f5a" stroke="#a3194a" stroke-width="0.6"/><rect x="88.9" y="631.2" width="2.3" height="63.4" fill="#4c9a3c" stroke="#2c7a2e" stroke-width="0.6"/><rect x="91.1" y="621.5" width="2.3" height="73.1" fill="#c62f5a" stroke="#a3194a" stroke-width="0.6"/><rect x="93.4" y="641.2" width="2.3" height="53.4" fill="#c62f5a" stroke="#a3194a" stroke-width="0.6"/><rect x="95.7" y="631.2" width="2.3" height="63.4" fill="#c62f5a" stroke="#a3194a" stroke-width="0.6"/><rect x="98" y="641.2" width="2.3" height="53.4" fill="#4c9a3c" stroke="#2c7a2e" stroke-width="0.6"/><rect x="100.3" y="645.3" width="2.3" height="49.3" fill="#4c9a3c" stroke="#2c7a2e" stroke-width="0.6"/><rect x="102.6" y="645" width="2.3" height="49.6" fill="#4c9a3c" stroke="#2c7a2e" stroke-width="0.6"/><rect x="104.9" y="659" width="2.3" height="35.6" fill="#c62f5a" stroke="#a3194a" stroke-width="0.6"/><rect x="107.2" y="662.3" width="2.3" height="32.3" fill="#4c9a3c" stroke="#2c7a2e" stroke-width="0.6"/><rect x="109.5" y="614.5" width="2.3" height="80.1" fill="#c62f5a" stroke="#a3194a" stroke-width="0.6"/><rect x="111.8" y="628.7" width="2.3" height="65.9" fill="#c62f5a" stroke="#a3194a" stroke-width="0.6"/><rect x="114.1" y="637.3" width="2.3" height="57.3" fill="#4c9a3c" stroke="#2c7a2e" stroke-width="0.6"/><rect x="116.4" y="633.3" width="2.3" height="61.3" fill="#c62f5a" stroke="#a3194a" stroke-width="0.6"/><rect x="118.7" y="635.3" width="2.3" height="59.3" fill="#c62f5a" stroke="#a3194a" stroke-width="0.6"/><rect x="121" y="649.5" width="2.3" height="45.1" fill="#4c9a3c" stroke="#2c7a2e" stroke-width="0.6"/><rect x="123.3" y="635.3" width="2.3" height="59.3" fill="#c62f5a" stroke="#a3194a" stroke-width="0.6"/><rect x="125.6" y="623.2" width="2.3" height="71.4" fill="#c62f5a" stroke="#a3194a" stroke-width="0.6"/><rect x="127.8" y="625" width="2.3" height="69.6" fill="#c62f5a" stroke="#a3194a" stroke-width="0.6"/><rect x="130.1" y="630.3" width="2.3" height="64.3" fill="#4c9a3c" stroke="#2c7a2e" stroke-width="0.6"/><rect x="132.4" y="639.5" width="2.3" height="55.1" fill="#4c9a3c" stroke="#2c7a2e" stroke-width="0.6"/><rect x="134.7" y="640.3" width="2.3" height="54.3" fill="#c62f5a" stroke="#a3194a" stroke-width="0.6"/><rect x="137" y="652.8" width="2.3" height="41.8" fill="#c62f5a" stroke="#a3194a" stroke-width="0.6"/><rect x="139.3" y="657" width="2.3" height="37.6" fill="#4c9a3c" stroke="#2c7a2e" stroke-width="0.6"/><rect x="141.6" y="650.3" width="2.3" height="44.3" fill="#4c9a3c" stroke="#2c7a2e" stroke-width="0.6"/><rect x="143.9" y="648.3" width="2.3" height="46.3" fill="#c62f5a" stroke="#a3194a" stroke-width="0.6"/><rect x="146.2" y="647.3" width="2.3" height="47.3" fill="#c62f5a" stroke="#a3194a" stroke-width="0.6"/><rect x="148.5" y="626.2" width="2.3" height="68.4" fill="#4c9a3c" stroke="#2c7a2e" stroke-width="0.6"/><rect x="150.8" y="618.3" width="2.3" height="76.3" fill="#4c9a3c" stroke="#2c7a2e" stroke-width="0.6"/><rect x="153.1" y="621.7" width="2.3" height="72.9" fill="#4c9a3c" stroke="#2c7a2e" stroke-width="0.6"/><rect x="155.4" y="635.3" width="2.3" height="59.3" fill="#4c9a3c" stroke="#2c7a2e" stroke-width="0.6"/><rect x="157.7" y="642.3" width="2.3" height="52.3" fill="#c62f5a" stroke="#a3194a" stroke-width="0.6"/><rect x="160" y="644.5" width="2.3" height="50.1" fill="#c62f5a" stroke="#a3194a" stroke-width="0.6"/><rect x="162.3" y="625.3" width="2.3" height="69.3" fill="#c62f5a" stroke="#a3194a" stroke-width="0.6"/><rect x="164.6" y="648.3" width="2.3" height="46.3" fill="#4c9a3c" stroke="#2c7a2e" stroke-width="0.6"/><rect x="166.8" y="642.5" width="2.3" height="52.1" fill="#4c9a3c" stroke="#2c7a2e" stroke-width="0.6"/><rect x="169.1" y="646.2" width="2.3" height="48.4" fill="#4c9a3c" stroke="#2c7a2e" stroke-width="0.6"/><rect x="171.4" y="638.7" width="2.3" height="55.9" fill="#4c9a3c" stroke="#2c7a2e" stroke-width="0.6"/><rect x="173.7" y="633.3" width="2.3" height="61.3" fill="#c62f5a" stroke="#a3194a" stroke-width="0.6"/><rect x="176" y="642.8" width="2.3" height="51.8" fill="#4c9a3c" stroke="#2c7a2e" stroke-width="0.6"/><rect x="178.3" y="641.2" width="2.3" height="53.4" fill="#c62f5a" stroke="#a3194a" stroke-width="0.6"/><rect x="180.6" y="644.2" width="2.3" height="50.4" fill="#4c9a3c" stroke="#2c7a2e" stroke-width="0.6"/><rect x="182.9" y="658.3" width="2.3" height="36.3" fill="#4c9a3c" stroke="#2c7a2e" stroke-width="0.6"/><rect x="185.2" y="652.5" width="2.3" height="42.1" fill="#4c9a3c" stroke="#2c7a2e" stroke-width="0.6"/><rect x="187.5" y="656.2" width="2.3" height="38.4" fill="#4c9a3c" stroke="#2c7a2e" stroke-width="0.6"/><rect x="189.8" y="656.7" width="2.3" height="37.9" fill="#c62f5a" stroke="#a3194a" stroke-width="0.6"/><rect x="192.1" y="646.2" width="2.3" height="48.4" fill="#c62f5a" stroke="#a3194a" stroke-width="0.6"/><rect x="194.4" y="649.2" width="2.3" height="45.4" fill="#4c9a3c" stroke="#2c7a2e" stroke-width="0.6"/><rect x="196.7" y="644.2" width="2.3" height="50.4" fill="#4c9a3c" stroke="#2c7a2e" stroke-width="0.6"/><rect x="199" y="647.3" width="2.3" height="47.3" fill="#c62f5a" stroke="#a3194a" stroke-width="0.6"/><rect x="201.3" y="643.3" width="2.3" height="51.3" fill="#4c9a3c" stroke="#2c7a2e" stroke-width="0.6"/><rect x="203.6" y="643.3" width="2.3" height="51.3" fill="#4c9a3c" stroke="#2c7a2e" stroke-width="0.6"/><rect x="205.8" y="639.2" width="2.3" height="55.4" fill="#c62f5a" stroke="#a3194a" stroke-width="0.6"/><rect x="208.1" y="637" width="2.3" height="57.6" fill="#4c9a3c" stroke="#2c7a2e" stroke-width="0.6"/><rect x="210.4" y="630.8" width="2.3" height="63.8" fill="#4c9a3c" stroke="#2c7a2e" stroke-width="0.6"/><rect x="212.7" y="639.5" width="2.3" height="55.1" fill="#c62f5a" stroke="#a3194a" stroke-width="0.6"/><rect x="215" y="638.2" width="2.3" height="56.4" fill="#c62f5a" stroke="#a3194a" stroke-width="0.6"/><rect x="217.3" y="644.8" width="2.3" height="49.8" fill="#c62f5a" stroke="#a3194a" stroke-width="0.6"/><rect x="219.6" y="662.3" width="2.3" height="32.3" fill="#4c9a3c" stroke="#2c7a2e" stroke-width="0.6"/><rect x="221.9" y="654.2" width="2.3" height="40.4" fill="#4c9a3c" stroke="#2c7a2e" stroke-width="0.6"/><rect x="224.2" y="669.5" width="2.3" height="25.1" fill="#4c9a3c" stroke="#2c7a2e" stroke-width="0.6"/><rect x="226.5" y="665.3" width="2.3" height="29.3" fill="#4c9a3c" stroke="#2c7a2e" stroke-width="0.6"/><rect x="228.8" y="641.2" width="2.3" height="53.4" fill="#c62f5a" stroke="#a3194a" stroke-width="0.6"/><rect x="231.1" y="643.3" width="2.3" height="51.3" fill="#4c9a3c" stroke="#2c7a2e" stroke-width="0.6"/><rect x="233.4" y="633.3" width="2.3" height="61.3" fill="#4c9a3c" stroke="#2c7a2e" stroke-width="0.6"/><rect x="235.7" y="633.3" width="2.3" height="61.3" fill="#c62f5a" stroke="#a3194a" stroke-width="0.6"/><rect x="238" y="654.2" width="2.3" height="40.4" fill="#4c9a3c" stroke="#2c7a2e" stroke-width="0.6"/><rect x="240.3" y="646.2" width="2.3" height="48.4" fill="#4c9a3c" stroke="#2c7a2e" stroke-width="0.6"/><rect x="242.6" y="640.3" width="2.3" height="54.3" fill="#4c9a3c" stroke="#2c7a2e" stroke-width="0.6"/><rect x="244.8" y="633.3" width="2.3" height="61.3" fill="#c62f5a" stroke="#a3194a" stroke-width="0.6"/><rect x="247.1" y="635.3" width="2.3" height="59.3" fill="#4c9a3c" stroke="#2c7a2e" stroke-width="0.6"/><rect x="249.4" y="600.7" width="2.3" height="93.9" fill="#4c9a3c" stroke="#2c7a2e" stroke-width="0.6"/><rect x="251.7" y="648.3" width="2.3" height="46.3" fill="#c62f5a" stroke="#a3194a" stroke-width="0.6"/><rect x="254" y="653.3" width="2.3" height="41.3" fill="#4c9a3c" stroke="#2c7a2e" stroke-width="0.6"/><rect x="256.3" y="650.3" width="2.3" height="44.3" fill="#c62f5a" stroke="#a3194a" stroke-width="0.6"/><rect x="258.6" y="658.3" width="2.3" height="36.3" fill="#4c9a3c" stroke="#2c7a2e" stroke-width="0.6"/><rect x="260.9" y="660.3" width="2.3" height="34.3" fill="#4c9a3c" stroke="#2c7a2e" stroke-width="0.6"/><rect x="263.2" y="652" width="2.3" height="42.6" fill="#c62f5a" stroke="#a3194a" stroke-width="0.6"/><rect x="265.5" y="645" width="2.3" height="49.6" fill="#c62f5a" stroke="#a3194a" stroke-width="0.6"/><rect x="267.8" y="644.2" width="2.3" height="50.4" fill="#c62f5a" stroke="#a3194a" stroke-width="0.6"/><rect x="270.1" y="632.3" width="2.3" height="62.3" fill="#c62f5a" stroke="#a3194a" stroke-width="0.6"/><rect x="272.4" y="653.3" width="2.3" height="41.3" fill="#4c9a3c" stroke="#2c7a2e" stroke-width="0.6"/><rect x="274.7" y="653.3" width="2.3" height="41.3" fill="#4c9a3c" stroke="#2c7a2e" stroke-width="0.6"/><rect x="277" y="662.5" width="2.3" height="32.1" fill="#c62f5a" stroke="#a3194a" stroke-width="0.6"/><rect x="279.3" y="655.7" width="2.3" height="38.9" fill="#4c9a3c" stroke="#2c7a2e" stroke-width="0.6"/><rect x="281.5" y="644.2" width="2.3" height="50.4" fill="#c62f5a" stroke="#a3194a" stroke-width="0.6"/><rect x="283.8" y="660" width="2.3" height="34.6" fill="#c62f5a" stroke="#a3194a" stroke-width="0.6"/><rect x="286.1" y="648.2" width="2.3" height="46.4" fill="#c62f5a" stroke="#a3194a" stroke-width="0.6"/><rect x="288.4" y="645.7" width="2.3" height="48.9" fill="#c62f5a" stroke="#a3194a" stroke-width="0.6"/><rect x="290.7" y="631.5" width="2.3" height="63.1" fill="#c62f5a" stroke="#a3194a" stroke-width="0.6"/><rect x="293" y="646.2" width="2.3" height="48.4" fill="#4c9a3c" stroke="#2c7a2e" stroke-width="0.6"/><rect x="295.3" y="652" width="2.3" height="42.6" fill="#4c9a3c" stroke="#2c7a2e" stroke-width="0.6"/><rect x="297.6" y="652.8" width="2.3" height="41.8" fill="#4c9a3c" stroke="#2c7a2e" stroke-width="0.6"/><rect x="299.9" y="661.2" width="2.3" height="33.4" fill="#4c9a3c" stroke="#2c7a2e" stroke-width="0.6"/><rect x="302.2" y="660.3" width="2.3" height="34.3" fill="#c62f5a" stroke="#a3194a" stroke-width="0.6"/><rect x="304.5" y="657.3" width="2.3" height="37.3" fill="#c62f5a" stroke="#a3194a" stroke-width="0.6"/><rect x="306.8" y="649.2" width="2.3" height="45.4" fill="#c62f5a" stroke="#a3194a" stroke-width="0.6"/><rect x="309.1" y="655.8" width="2.3" height="38.8" fill="#4c9a3c" stroke="#2c7a2e" stroke-width="0.6"/><rect x="311.4" y="638.7" width="2.3" height="55.9" fill="#c62f5a" stroke="#a3194a" stroke-width="0.6"/><rect x="313.7" y="641.2" width="2.3" height="53.4" fill="#c62f5a" stroke="#a3194a" stroke-width="0.6"/><rect x="316" y="636.2" width="2.3" height="58.4" fill="#4c9a3c" stroke="#2c7a2e" stroke-width="0.6"/><rect x="318.3" y="646.2" width="2.3" height="48.4" fill="#4c9a3c" stroke="#2c7a2e" stroke-width="0.6"/><rect x="320.5" y="647" width="2.3" height="47.6" fill="#c62f5a" stroke="#a3194a" stroke-width="0.6"/><rect x="322.8" y="645" width="2.3" height="49.6" fill="#4c9a3c" stroke="#2c7a2e" stroke-width="0.6"/><rect x="325.1" y="644.2" width="2.3" height="50.4" fill="#c62f5a" stroke="#a3194a" stroke-width="0.6"/><rect x="327.4" y="635.3" width="2.3" height="59.3" fill="#4c9a3c" stroke="#2c7a2e" stroke-width="0.6"/><rect x="329.7" y="626.2" width="2.3" height="68.4" fill="#4c9a3c" stroke="#2c7a2e" stroke-width="0.6"/><rect x="332" y="641.7" width="2.3" height="52.9" fill="#c62f5a" stroke="#a3194a" stroke-width="0.6"/><rect x="334.3" y="661.2" width="2.3" height="33.4" fill="#c62f5a" stroke="#a3194a" stroke-width="0.6"/><rect x="336.6" y="648.2" width="2.3" height="46.4" fill="#4c9a3c" stroke="#2c7a2e" stroke-width="0.6"/><rect x="338.9" y="656.2" width="2.3" height="38.4" fill="#4c9a3c" stroke="#2c7a2e" stroke-width="0.6"/><rect x="341.2" y="652" width="2.3" height="42.6" fill="#c62f5a" stroke="#a3194a" stroke-width="0.6"/><rect x="343.5" y="659" width="2.3" height="35.6" fill="#4c9a3c" stroke="#2c7a2e" stroke-width="0.6"/><rect x="345.8" y="668.2" width="2.3" height="26.4" fill="#4c9a3c" stroke="#2c7a2e" stroke-width="0.6"/><rect x="348.1" y="651.2" width="2.3" height="43.4" fill="#4c9a3c" stroke="#2c7a2e" stroke-width="0.6"/><rect x="350.4" y="635" width="2.3" height="59.6" fill="#4c9a3c" stroke="#2c7a2e" stroke-width="0.6"/><rect x="352.7" y="649.2" width="2.3" height="45.4" fill="#4c9a3c" stroke="#2c7a2e" stroke-width="0.6"/><rect x="355" y="642.8" width="2.3" height="51.8" fill="#4c9a3c" stroke="#2c7a2e" stroke-width="0.6"/><rect x="357.3" y="635.3" width="2.3" height="59.3" fill="#c62f5a" stroke="#a3194a" stroke-width="0.6"/><rect x="359.5" y="651.2" width="2.3" height="43.4" fill="#c62f5a" stroke="#a3194a" stroke-width="0.6"/><rect x="361.8" y="649" width="2.3" height="45.6" fill="#c62f5a" stroke="#a3194a" stroke-width="0.6"/><rect x="364.1" y="657.3" width="2.3" height="37.3" fill="#c62f5a" stroke="#a3194a" stroke-width="0.6"/><rect x="366.4" y="652" width="2.3" height="42.6" fill="#4c9a3c" stroke="#2c7a2e" stroke-width="0.6"/><rect x="368.7" y="631.7" width="2.3" height="62.9" fill="#4c9a3c" stroke="#2c7a2e" stroke-width="0.6"/><rect x="371" y="603.2" width="2.3" height="91.4" fill="#4c9a3c" stroke="#2c7a2e" stroke-width="0.6"/><rect x="373.3" y="620.3" width="2.3" height="74.3" fill="#4c9a3c" stroke="#2c7a2e" stroke-width="0.6"/><rect x="375.6" y="647.3" width="2.3" height="47.3" fill="#4c9a3c" stroke="#2c7a2e" stroke-width="0.6"/><rect x="377.9" y="654.5" width="2.3" height="40.1" fill="#4c9a3c" stroke="#2c7a2e" stroke-width="0.6"/><rect x="380.2" y="643.3" width="2.3" height="51.3" fill="#c62f5a" stroke="#a3194a" stroke-width="0.6"/><rect x="382.5" y="643.7" width="2.3" height="50.9" fill="#c62f5a" stroke="#a3194a" stroke-width="0.6"/><rect x="384.8" y="642" width="2.3" height="52.6" fill="#4c9a3c" stroke="#2c7a2e" stroke-width="0.6"/><rect x="387.1" y="627" width="2.3" height="67.6" fill="#4c9a3c" stroke="#2c7a2e" stroke-width="0.6"/><rect x="389.4" y="631.5" width="2.3" height="63.1" fill="#c62f5a" stroke="#a3194a" stroke-width="0.6"/><rect x="391.7" y="638.7" width="2.3" height="55.9" fill="#c62f5a" stroke="#a3194a" stroke-width="0.6"/><rect x="394" y="641.7" width="2.3" height="52.9" fill="#c62f5a" stroke="#a3194a" stroke-width="0.6"/><rect x="396.2" y="650.3" width="2.3" height="44.3" fill="#4c9a3c" stroke="#2c7a2e" stroke-width="0.6"/><rect x="398.5" y="652.5" width="2.3" height="42.1" fill="#4c9a3c" stroke="#2c7a2e" stroke-width="0.6"/><rect x="400.8" y="647.3" width="2.3" height="47.3" fill="#c62f5a" stroke="#a3194a" stroke-width="0.6"/><rect x="403.1" y="654" width="2.3" height="40.6" fill="#c62f5a" stroke="#a3194a" stroke-width="0.6"/><rect x="405.4" y="649.5" width="2.3" height="45.1" fill="#c62f5a" stroke="#a3194a" stroke-width="0.6"/><rect x="407.7" y="651.2" width="2.3" height="43.4" fill="#4c9a3c" stroke="#2c7a2e" stroke-width="0.6"/><rect x="410" y="640.3" width="2.3" height="54.3" fill="#4c9a3c" stroke="#2c7a2e" stroke-width="0.6"/><rect x="412.3" y="645.8" width="2.3" height="48.8" fill="#4c9a3c" stroke="#2c7a2e" stroke-width="0.6"/><rect x="414.6" y="646.7" width="2.3" height="47.9" fill="#4c9a3c" stroke="#2c7a2e" stroke-width="0.6"/><rect x="416.9" y="655" width="2.3" height="39.6" fill="#c62f5a" stroke="#a3194a" stroke-width="0.6"/><rect x="419.2" y="660" width="2.3" height="34.6" fill="#c62f5a" stroke="#a3194a" stroke-width="0.6"/><rect x="421.5" y="660.8" width="2.3" height="33.8" fill="#c62f5a" stroke="#a3194a" stroke-width="0.6"/><rect x="423.8" y="656.5" width="2.3" height="38.1" fill="#4c9a3c" stroke="#2c7a2e" stroke-width="0.6"/><rect x="426.1" y="657.3" width="2.3" height="37.3" fill="#4c9a3c" stroke="#2c7a2e" stroke-width="0.6"/><rect x="428.4" y="663.2" width="2.3" height="31.4" fill="#c62f5a" stroke="#a3194a" stroke-width="0.6"/><rect x="430.7" y="650.3" width="2.3" height="44.3" fill="#4c9a3c" stroke="#2c7a2e" stroke-width="0.6"/><rect x="433" y="652" width="2.3" height="42.6" fill="#c62f5a" stroke="#a3194a" stroke-width="0.6"/><rect x="435.2" y="641.2" width="2.3" height="53.4" fill="#c62f5a" stroke="#a3194a" stroke-width="0.6"/><rect x="437.5" y="643.2" width="2.3" height="51.4" fill="#c62f5a" stroke="#a3194a" stroke-width="0.6"/><rect x="439.8" y="645" width="2.3" height="49.6" fill="#4c9a3c" stroke="#2c7a2e" stroke-width="0.6"/><rect x="442.1" y="635.3" width="2.3" height="59.3" fill="#4c9a3c" stroke="#2c7a2e" stroke-width="0.6"/><rect x="444.4" y="640.3" width="2.3" height="54.3" fill="#4c9a3c" stroke="#2c7a2e" stroke-width="0.6"/><rect x="446.7" y="647.3" width="2.3" height="47.3" fill="#4c9a3c" stroke="#2c7a2e" stroke-width="0.6"/><rect x="449" y="646.2" width="2.3" height="48.4" fill="#c62f5a" stroke="#a3194a" stroke-width="0.6"/><rect x="451.3" y="652.5" width="2.3" height="42.1" fill="#4c9a3c" stroke="#2c7a2e" stroke-width="0.6"/><rect x="453.6" y="651.2" width="2.3" height="43.4" fill="#4c9a3c" stroke="#2c7a2e" stroke-width="0.6"/><rect x="455.9" y="642" width="2.3" height="52.6" fill="#4c9a3c" stroke="#2c7a2e" stroke-width="0.6"/><rect x="458.2" y="635.3" width="2.3" height="59.3" fill="#c62f5a" stroke="#a3194a" stroke-width="0.6"/><rect x="460.5" y="651.2" width="2.3" height="43.4" fill="#4c9a3c" stroke="#2c7a2e" stroke-width="0.6"/><rect x="462.8" y="659.5" width="2.3" height="35.1" fill="#4c9a3c" stroke="#2c7a2e" stroke-width="0.6"/><rect x="465.1" y="673.2" width="2.3" height="21.4" fill="#4c9a3c" stroke="#2c7a2e" stroke-width="0.6"/><rect x="467.4" y="658.2" width="2.3" height="36.4" fill="#c62f5a" stroke="#a3194a" stroke-width="0.6"/><rect x="469.7" y="637.3" width="2.3" height="57.3" fill="#4c9a3c" stroke="#2c7a2e" stroke-width="0.6"/><rect x="472" y="649.2" width="2.3" height="45.4" fill="#c62f5a" stroke="#a3194a" stroke-width="0.6"/><rect x="474.2" y="650.8" width="2.3" height="43.8" fill="#c62f5a" stroke="#a3194a" stroke-width="0.6"/><rect x="476.5" y="642" width="2.3" height="52.6" fill="#4c9a3c" stroke="#2c7a2e" stroke-width="0.6"/><rect x="478.8" y="660" width="2.3" height="34.6" fill="#c62f5a" stroke="#a3194a" stroke-width="0.6"/><rect x="481.1" y="648.7" width="2.3" height="45.9" fill="#c62f5a" stroke="#a3194a" stroke-width="0.6"/><rect x="483.4" y="660" width="2.3" height="34.6" fill="#4c9a3c" stroke="#2c7a2e" stroke-width="0.6"/><rect x="485.7" y="645.3" width="2.3" height="49.3" fill="#4c9a3c" stroke="#2c7a2e" stroke-width="0.6"/><rect x="488" y="615.3" width="2.3" height="79.3" fill="#4c9a3c" stroke="#2c7a2e" stroke-width="0.6"/><rect x="490.3" y="636.2" width="2.3" height="58.4" fill="#c62f5a" stroke="#a3194a" stroke-width="0.6"/><rect x="492.6" y="634.2" width="2.3" height="60.4" fill="#c62f5a" stroke="#a3194a" stroke-width="0.6"/><rect x="494.9" y="651.2" width="2.3" height="43.4" fill="#4c9a3c" stroke="#2c7a2e" stroke-width="0.6"/><rect x="497.2" y="632.3" width="2.3" height="62.3" fill="#4c9a3c" stroke="#2c7a2e" stroke-width="0.6"/><rect x="499.5" y="604.5" width="2.3" height="90.1" fill="#4c9a3c" stroke="#2c7a2e" stroke-width="0.6"/><rect x="501.8" y="619.5" width="2.3" height="75.1" fill="#4c9a3c" stroke="#2c7a2e" stroke-width="0.6"/><rect x="504.1" y="634.8" width="2.3" height="59.8" fill="#c62f5a" stroke="#a3194a" stroke-width="0.6"/><rect x="506.4" y="637.8" width="2.3" height="56.8" fill="#c62f5a" stroke="#a3194a" stroke-width="0.6"/><rect x="508.7" y="637.3" width="2.3" height="57.3" fill="#4c9a3c" stroke="#2c7a2e" stroke-width="0.6"/><rect x="510.9" y="637.3" width="2.3" height="57.3" fill="#4c9a3c" stroke="#2c7a2e" stroke-width="0.6"/><rect x="513.2" y="629.5" width="2.3" height="65.1" fill="#c62f5a" stroke="#a3194a" stroke-width="0.6"/><rect x="515.5" y="651.2" width="2.3" height="43.4" fill="#4c9a3c" stroke="#2c7a2e" stroke-width="0.6"/><rect x="517.8" y="642" width="2.3" height="52.6" fill="#c62f5a" stroke="#a3194a" stroke-width="0.6"/><rect x="520.1" y="648.2" width="2.3" height="46.4" fill="#4c9a3c" stroke="#2c7a2e" stroke-width="0.6"/><rect x="522.4" y="656.2" width="2.3" height="38.4" fill="#c62f5a" stroke="#a3194a" stroke-width="0.6"/><rect x="524.7" y="655.3" width="2.3" height="39.3" fill="#4c9a3c" stroke="#2c7a2e" stroke-width="0.6"/><rect x="527" y="653.3" width="2.3" height="41.3" fill="#4c9a3c" stroke="#2c7a2e" stroke-width="0.6"/><rect x="529.3" y="635.3" width="2.3" height="59.3" fill="#4c9a3c" stroke="#2c7a2e" stroke-width="0.6"/><rect x="531.6" y="633.3" width="2.3" height="61.3" fill="#c62f5a" stroke="#a3194a" stroke-width="0.6"/><rect x="533.9" y="637" width="2.3" height="57.6" fill="#c62f5a" stroke="#a3194a" stroke-width="0.6"/><rect x="536.2" y="638.7" width="2.3" height="55.9" fill="#4c9a3c" stroke="#2c7a2e" stroke-width="0.6"/><rect x="538.5" y="640.3" width="2.3" height="54.3" fill="#4c9a3c" stroke="#2c7a2e" stroke-width="0.6"/><rect x="540.8" y="646.2" width="2.3" height="48.4" fill="#4c9a3c" stroke="#2c7a2e" stroke-width="0.6"/><rect x="543.1" y="650.3" width="2.3" height="44.3" fill="#4c9a3c" stroke="#2c7a2e" stroke-width="0.6"/><rect x="545.4" y="652.8" width="2.3" height="41.8" fill="#c62f5a" stroke="#a3194a" stroke-width="0.6"/><rect x="547.7" y="650.8" width="2.3" height="43.8" fill="#c62f5a" stroke="#a3194a" stroke-width="0.6"/><rect x="549.9" y="647" width="2.3" height="47.6" fill="#4c9a3c" stroke="#2c7a2e" stroke-width="0.6"/><rect x="552.2" y="645.8" width="2.3" height="48.8" fill="#4c9a3c" stroke="#2c7a2e" stroke-width="0.6"/><rect x="554.5" y="642.5" width="2.3" height="52.1" fill="#4c9a3c" stroke="#2c7a2e" stroke-width="0.6"/><rect x="556.8" y="650" width="2.3" height="44.6" fill="#c62f5a" stroke="#a3194a" stroke-width="0.6"/><rect x="559.1" y="648.2" width="2.3" height="46.4" fill="#4c9a3c" stroke="#2c7a2e" stroke-width="0.6"/><rect x="561.4" y="652" width="2.3" height="42.6" fill="#4c9a3c" stroke="#2c7a2e" stroke-width="0.6"/><rect x="563.7" y="646.2" width="2.3" height="48.4" fill="#4c9a3c" stroke="#2c7a2e" stroke-width="0.6"/><rect x="566" y="643.3" width="2.3" height="51.3" fill="#c62f5a" stroke="#a3194a" stroke-width="0.6"/><rect x="568.3" y="633.3" width="2.3" height="61.3" fill="#c62f5a" stroke="#a3194a" stroke-width="0.6"/><rect x="570.6" y="630.3" width="2.3" height="64.3" fill="#c62f5a" stroke="#a3194a" stroke-width="0.6"/><rect x="572.9" y="642.5" width="2.3" height="52.1" fill="#4c9a3c" stroke="#2c7a2e" stroke-width="0.6"/><rect x="575.2" y="656.2" width="2.3" height="38.4" fill="#c62f5a" stroke="#a3194a" stroke-width="0.6"/><rect x="577.5" y="653.3" width="2.3" height="41.3" fill="#c62f5a" stroke="#a3194a" stroke-width="0.6"/><rect x="579.8" y="641.2" width="2.3" height="53.4" fill="#4c9a3c" stroke="#2c7a2e" stroke-width="0.6"/><rect x="582.1" y="655" width="2.3" height="39.6" fill="#c62f5a" stroke="#a3194a" stroke-width="0.6"/><rect x="584.4" y="676.7" width="2.3" height="17.9" fill="#c62f5a" stroke="#a3194a" stroke-width="0.6"/><rect x="586.6" y="670.3" width="2.3" height="24.3" fill="#4c9a3c" stroke="#2c7a2e" stroke-width="0.6"/><rect x="588.9" y="645" width="2.3" height="49.6" fill="#4c9a3c" stroke="#2c7a2e" stroke-width="0.6"/><rect x="591.2" y="649.2" width="2.3" height="45.4" fill="#4c9a3c" stroke="#2c7a2e" stroke-width="0.6"/><rect x="593.5" y="649.5" width="2.3" height="45.1" fill="#4c9a3c" stroke="#2c7a2e" stroke-width="0.6"/><rect x="595.8" y="647.3" width="2.3" height="47.3" fill="#4c9a3c" stroke="#2c7a2e" stroke-width="0.6"/><rect x="598.1" y="649.2" width="2.3" height="45.4" fill="#4c9a3c" stroke="#2c7a2e" stroke-width="0.6"/><rect x="600.4" y="642.5" width="2.3" height="52.1" fill="#4c9a3c" stroke="#2c7a2e" stroke-width="0.6"/><rect x="602.7" y="656.5" width="2.3" height="38.1" fill="#4c9a3c" stroke="#2c7a2e" stroke-width="0.6"/><rect x="605" y="642.5" width="2.3" height="52.1" fill="#c62f5a" stroke="#a3194a" stroke-width="0.6"/><rect x="607.3" y="644.5" width="2.3" height="50.1" fill="#4c9a3c" stroke="#2c7a2e" stroke-width="0.6"/><rect x="609.6" y="640.3" width="2.3" height="54.3" fill="#4c9a3c" stroke="#2c7a2e" stroke-width="0.6"/><rect x="611.9" y="687.3" width="2.3" height="7.3" fill="#4c9a3c" stroke="#2c7a2e" stroke-width="0.6"/></g>
<line x1="12.6" x2="732.4" y1="738.5" y2="738.5" stroke="#2e7d45" stroke-width="1.1" shape-rendering="crispEdges"/>
<line x1="12.6" x2="732.4" y1="847.5" y2="847.5" stroke="#2e7d45" stroke-width="1.1" shape-rendering="crispEdges"/>
<line x1="12.6" x2="732.4" y1="792.5" y2="792.5" stroke="#2e7d45" stroke-width="1.1" stroke-dasharray="7 2.2 2 2.2"/>
<path d="M13.6 749.4 L16.2 761.9 L18.5 770.8 L20.7 778.2 L23.3 777.9 L26 763.7 L28.7 751.2 L31.3 741.4 L34 736.1 L36.7 734.9 L40.2 733.8 L43.8 732.6 L47.3 729.9 L50.9 726 L54.4 722.2 L58 719.2 L60.7 721 L63.3 725.4 L66 732.6 L68.7 740.6 L72.2 749.4 L75.8 760.1 L79.3 770.8 L82.9 781.4 L85.6 793.9 L88.2 804.6 L91.8 815.2 L95.3 827.7 L98.9 838.3 L101.6 843.7 L103.3 841.9 L106 833 L108.7 820.6 L111.3 809.9 L114 801 L116.3 797.4 L118.4 800.1 L121.1 806.3 L123.8 815.2 L126.4 825.9 L129.1 836.6 L131.8 847.2 L134 852.6 L136.7 858.2 L139.3 855.2 L142 848.1 L144.7 838.3 L147.3 825.9 L150 809.9 L152.7 790.3 L155.3 770.8 L158 753 L160.7 738.8 L163 733.4 L165.1 735.2 L167.4 743.2 L169.6 755.7 L172.2 772.6 L174.9 786.8 L177.6 799.2 L180.2 809 L182.9 816.1 L185.6 818.8 L188.2 816.1 L190.9 809 L193.6 801.9 L196.2 795.7 L198.9 793 L201.6 793 L204.2 793 L206.9 788.6 L209.6 777.9 L212.2 763.7 L214.9 752.1 L217.6 748.2 L220.2 751.2 L222.9 761.9 L225.6 774.3 L228.2 785 L230.9 791.2 L233.6 790.3 L236.2 788.6 L238.9 791.2 L241.6 791.2 L244.2 788.6 L246.9 783.2 L249.6 770.8 L252.2 758.3 L254.9 753.9 L257.2 752.1 L260.7 763.7 L263.3 774.3 L266.9 783.2 L270.4 793.9 L273.1 806.3 L275.8 818.8 L278.4 829.4 L281.1 837.4 L283.8 841 L286.4 841.9 L289.1 845.4 L291.8 849 L294.4 854.3 L296.2 856.1 L298.5 852.6 L300.7 845.4 L303.3 833 L306 820.6 L308.7 811.7 L310.8 810.2 L313.1 814.3 L315.8 825.9 L318.4 840.1 L320.2 847.2 L322.4 849.9 L324.7 848.1 L327.3 846.3 L330 842.8 L332.7 834.8 L335.3 818.8 L338 797.4 L340.7 774.3 L343.3 753 L346 737 L348.7 727.2 L351.3 721.9 L354 717.4 L356.7 713.9 L359.3 716 L362 721 L364.7 731.7 L367.3 747.7 L370 763.7 L372.7 776.1 L374.4 778.8 L376.8 774.3 L378.9 765.4 L381.6 753 L384.7 738.8 L387.3 734.3 L390 737 L392.7 743.2 L395.3 750.3 L398 758.3 L400.7 767.2 L403.3 779.7 L406 792.1 L408.7 806.3 L411.3 818.8 L414 829.4 L416.7 832.1 L419.3 829.4 L422 825 L424.7 820.6 L427.3 818.8 L430 817.9 L432.7 816.1 L435.3 816.1 L438 818.8 L440.7 819.7 L443.3 817 L446 808.1 L448.7 790.3 L451.3 770.8 L454 753 L456.7 740.6 L459.3 736.1 L462 737 L464.7 740.6 L467.3 745 L470 748.6 L472.7 753.9 L475.3 761.9 L478 770.8 L480.7 779.7 L483.3 788.6 L486 793.9 L487.8 793 L490.4 785 L493.1 774.3 L495.8 760.1 L498.4 747.7 L501.1 736.1 L503.8 728.1 L506 725.4 L508.7 728.1 L511.3 729.9 L514 734.3 L516.7 737.9 L519.3 740.6 L522 746.8 L524.7 753 L527.3 758.3 L530 761.9 L532.7 764.6 L535.3 765.4 L538 763.7 L540.7 761.9 L543.3 756.6 L546 745.9 L548.7 735.2 L551.3 727.2 L554 721.9 L556.7 719.2 L559.3 717.4 L562 716 L564.7 715.3 L567.3 716 L570 719.2 L572.7 728.1 L575.3 740.6 L578 754.8 L580.7 765.4 L583.3 776.1 L586 785 L588.7 791.2 L591 793 L593.1 790.3 L594.9 785 L597 772.6 L599.3 758.3 L602 742.3 L604.7 731.7 L607.3 727.2 L610 725.4 L611.8 724.6" fill="none" stroke="#f02a1c" stroke-width="1.05" stroke-linejoin="round"/>
<path d="M13.6 775.2 L15.9 790.3 L18 783.2 L20.7 776.1 L22.8 758.3 L25.1 733.1 L27.8 734.3 L29.9 735.6 L32.2 737.9 L34.5 734.3 L36.7 732 L38.8 733.8 L41.6 732 L43.8 729.9 L46.4 726.7 L49.1 722.8 L51.8 719.2 L54.4 716.6 L57.1 717.1 L59.8 720.1 L62.4 726.3 L65.1 735.2 L67.8 746.8 L70.4 758.3 L73.1 762.8 L75.8 772.6 L78.4 783.2 L81.1 790.3 L83.8 802.8 L86.4 815.2 L89.1 820.6 L91.8 831.2 L94.4 841.9 L96.6 849.9 L98.9 842.8 L100.7 846.3 L102.4 838.3 L104.8 818.8 L106.9 799.2 L108.7 793.5 L111.3 793.9 L114 797.4 L116.7 806.3 L119.3 820.6 L122 824.1 L124.7 834.8 L126.4 849 L128.2 856.1 L130.9 860 L133.6 861.1 L136.7 856.1 L139.3 847.2 L142 833 L144.7 820.6 L146.8 811.7 L149.1 790.3 L151.8 761.9 L154.4 740.6 L157.1 722.8 L159.8 718.9 L162.1 733.4 L164.2 751.2 L166.9 772.6 L169.6 792.1 L171.7 805.4 L174 807.8 L176.3 809 L178.4 821.4 L180.6 823.2 L182.9 824.1 L185.6 813.4 L188.2 801.9 L190.5 788.6 L192.7 792.1 L195.3 792.1 L197.6 794.8 L199.8 799.2 L202.1 797.4 L204.2 781.4 L206.5 775.2 L208.7 758.3 L210.8 743.2 L213.1 735.2 L215.4 746.8 L217.6 756.6 L219.9 772.6 L222 788.6 L224.3 800.1 L226.4 791.2 L228.8 790.3 L231.4 786.8 L233.9 783.2 L236.2 793.9 L238.5 802.8 L240.7 792.1 L243.3 775.2 L245.6 775.2 L247.8 751.2 L250.1 740.9 L252.8 747.7 L254.9 760.1 L257.2 764.6 L259.8 777.9 L262.4 781.4 L265.1 785.9 L267.8 793.9 L270.4 811.7 L273.1 827.7 L275.8 838.3 L277.9 846.3 L279.7 847.2 L282 840.1 L284.3 839.2 L286.4 847.2 L288.8 851.7 L290.9 859.7 L292.7 863.2 L294.4 861.4 L296.8 852.6 L298.9 834.8 L300.7 818.8 L302.8 806.3 L305.1 800.1 L307.4 806.3 L309.6 813.4 L311.3 827.7 L313.5 843.7 L315.8 851.7 L317.6 853.4 L319.3 846.3 L321.1 849.9 L323.8 848.1 L326.4 845.4 L329.1 840.1 L330.9 829.4 L332.7 813.4 L334.8 790.3 L337.1 756.6 L339.2 735.2 L341.6 731.7 L344.2 725.4 L346.9 720.1 L349.6 716.6 L352.2 713 L355.2 708.6 L357.6 714.8 L359.9 722.8 L362 735.2 L364.3 751.2 L366.4 767.2 L368.6 785 L369.8 792.1 L371.8 779.7 L374.4 761.9 L376.2 749.4 L378.5 735.2 L380.7 725.4 L382 729.9 L384.7 736.1 L387.3 740.6 L390 747.7 L392.7 756.6 L395.3 763.7 L398 770.8 L400.7 781.4 L403.3 797.4 L406 811.7 L408.7 827.7 L411.3 841 L413.1 843.7 L414.9 829.4 L416.7 820.6 L419.7 813.4 L422 820.6 L423.8 821.4 L426.4 818.8 L429.1 818.8 L431.8 813.4 L433.6 805.4 L435.9 820.6 L438 834.8 L440.3 824.1 L442.4 809.9 L445.1 785 L446.9 763.7 L448.7 749.4 L450.4 738.8 L452.2 733.4 L454.9 733.4 L456.7 730.8 L458.8 741.4 L461.1 740.6 L463.8 743.2 L466.4 749.4 L468.8 758.3 L470.9 757.4 L473.6 765.4 L475.9 776.1 L478 783.2 L480.7 797.4 L483.3 801.9 L486 788.6 L488.7 776.1 L491.3 761.9 L494 745.9 L495.8 731.7 L497.6 723.7 L499.9 726.3 L502 723.7 L504.3 721.4 L506 725.4 L507.8 733.4 L509.6 736.1 L511.3 732.6 L513.1 737.9 L515.2 740.6 L517.6 741.4 L519.9 747.7 L522 756.6 L524.7 763.7 L527.3 765.8 L530 761 L532.7 763.7 L534.8 768.1 L537.1 763.7 L539.8 757.4 L542.4 747.7 L544.2 735.2 L546 728.1 L547.8 726.3 L550.1 719.2 L553.1 718.3 L555.8 717.8 L558.4 713.9 L560.8 713 L563.8 714.2 L566.4 714.8 L568.6 718.3 L570.4 729.9 L571.8 742.3 L573.6 751.2 L575.3 760.1 L577.1 770.8 L578.9 778.8 L580.7 783.2 L582.8 782.3 L584.2 788.6 L586 797.4 L588.1 799.2 L590.4 792.1 L592.2 785 L594 767.2 L595.8 749.4 L597.6 735.2 L599.3 729.9 L601.1 724.6 L602.9 718.3 L604.7 722.8 L606.4 727.2 L608.8 728.5 L610.9 725.4 L612.7 722.8" fill="none" stroke="#0a0a0a" stroke-width="1.2" stroke-linejoin="round"/>
<line x1="25" x2="651" y1="718.2" y2="718.2" stroke="#000" stroke-width="1.5"/>
<ellipse cx="18" cy="789.5" rx="12.2" ry="8.2" fill="none" stroke="#0a0aff" stroke-width="2.2"/>
<ellipse cx="370" cy="792.5" rx="11.5" ry="8.6" fill="none" stroke="#0a0aff" stroke-width="2.2"/>
<ellipse cx="487.7" cy="792.2" rx="12.6" ry="7.2" fill="none" stroke="#0a0aff" stroke-width="2.2"/>
<ellipse cx="590.7" cy="793.3" rx="13.2" ry="7.6" fill="none" stroke="#0a0aff" stroke-width="3"/>
<rect x="75.9" y="839.3" width="29.2" height="14.8" rx="1.5" fill="none" stroke="#0a0aff" stroke-width="4.0"/>
<rect x="124.1" y="845.6" width="31.2" height="17.3" rx="1.5" fill="none" stroke="#0a0aff" stroke-width="4.0"/>
<rect x="271.2" y="843.5" width="27.6" height="18.4" rx="1.5" fill="none" stroke="#0a0aff" stroke-width="4.0"/>
<rect x="310.2" y="842.4" width="24.9" height="12.6" rx="1.5" fill="none" stroke="#0a0aff" stroke-width="4.0"/>
<rect x="403.9" y="834.5" width="29.1" height="17.1" rx="1.5" fill="none" stroke="#0a0aff" stroke-width="4.0"/>
<rect x="592" y="711.2" width="38.6" height="21.5" rx="2" fill="none" stroke="#ff9412" stroke-width="3.9"/>
<g filter="url(#sh)"><rect x="651.2" y="705.3" width="31.4" height="23.7" fill="#fff" stroke="#999" stroke-width="0.8"/></g>
<text x="653.8" y="723" font-size="15.5" font-weight="bold" fill="#000">90</text>
<g filter="url(#sh)"><rect x="298" y="860.4" width="368.8" height="24" fill="#fff" stroke="#999" stroke-width="0.8"/></g>
<text x="301" y="878.6" font-size="16.6" font-weight="bold" textLength="355" lengthAdjust="spacingAndGlyphs" fill="#000">Gold Weekly Chart Stochastics (14,5,5 series)</text>
</svg>
</body></html>
